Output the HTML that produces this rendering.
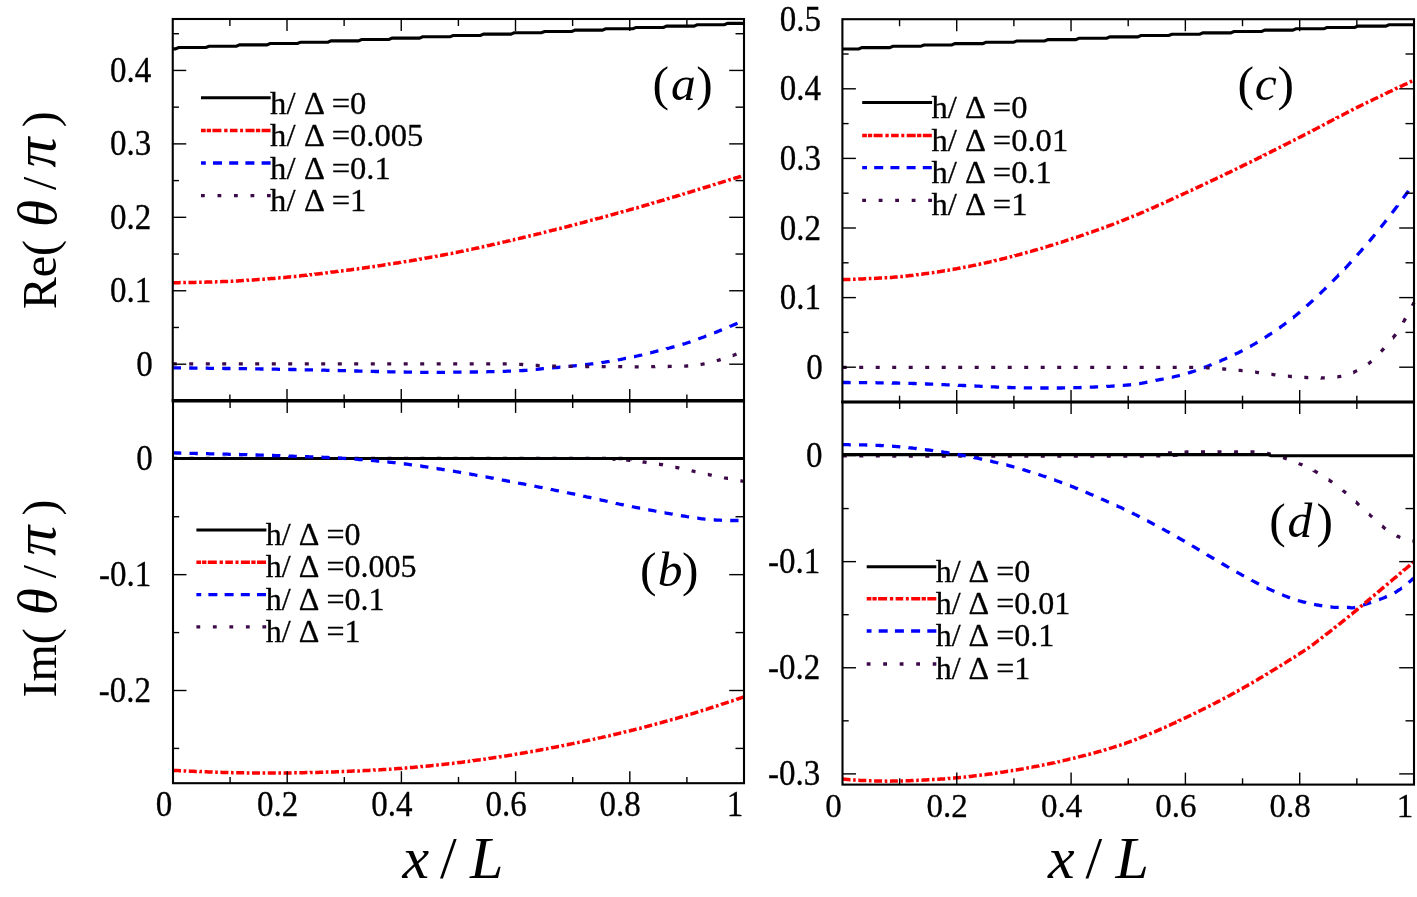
<!DOCTYPE html>
<html><head><meta charset="utf-8"><title>figure</title>
<style>html,body{margin:0;padding:0;background:#fff;}svg{display:block;}text{font-family:"Liberation Serif", serif;fill:#000;}.s{stroke:#000;stroke-width:0.3px;}</style>
</head><body>
<svg width="1417" height="897" viewBox="0 0 1417 897" style="will-change:transform">
<rect x="0" y="0" width="1417" height="897" fill="#ffffff"/>
<defs>
<clipPath id="cpa"><rect x="171.25" y="19.00" width="574.25" height="381.90"/></clipPath>
<clipPath id="cpb"><rect x="171.50" y="400.90" width="574.00" height="382.30"/></clipPath>
<clipPath id="cpc"><rect x="840.90" y="19.20" width="574.60" height="382.80"/></clipPath>
<clipPath id="cpd"><rect x="841.00" y="402.00" width="574.50" height="382.60"/></clipPath>
</defs>
<path d="M172.75,48.88 L175.40,48.88 L178.60,47.54 L205.90,47.54 L209.10,46.20 L236.40,46.20 L239.60,44.86 L266.90,44.86 L270.10,43.52 L297.40,43.52 L300.60,42.18 L327.90,42.18 L331.10,40.84 L358.40,40.84 L361.60,39.50 L388.90,39.50 L392.10,38.16 L419.40,38.16 L422.60,36.82 L449.90,36.82 L453.10,35.48 L480.40,35.48 L483.60,34.14 L510.90,34.14 L514.10,32.80 L541.40,32.80 L544.60,31.46 L571.90,31.46 L575.10,30.12 L602.40,30.12 L605.60,28.78 L632.90,28.78 L636.10,27.44 L663.40,27.44 L666.60,26.10 L693.90,26.10 L697.10,24.76 L724.40,24.76 L727.60,23.42 L744.00,23.42" fill="none" stroke="#000000" stroke-width="3.10"/>
<path d="M172.8,282.8 L173.0,282.8 L173.8,282.8 L174.7,282.8 L175.7,282.7 L176.7,282.7 L177.8,282.7 L179.0,282.7 L180.2,282.6 L180.7,282.6 M183.3,282.6 L183.7,282.6 L185.1,282.6 L185.9,282.5 M188.5,282.5 L188.6,282.5 L190.1,282.5 L191.7,282.4 L193.3,282.4 L195.0,282.4 L196.5,282.3 M199.1,282.3 L199.4,282.3 L201.2,282.2 L201.7,282.2 M204.3,282.2 L204.6,282.2 L206.4,282.1 L208.1,282.1 L209.9,282.0 L211.6,282.0 L212.3,281.9 M214.9,281.9 L215.1,281.9 L216.8,281.8 L217.5,281.8 M220.1,281.7 L220.3,281.7 L221.9,281.6 L223.6,281.6 L225.2,281.5 L226.8,281.4 L228.1,281.4 M230.7,281.3 L230.9,281.3 L232.4,281.2 L233.3,281.1 M235.9,281.0 L236.4,281.0 L237.9,280.9 L239.4,280.8 L240.9,280.7 L242.4,280.6 L243.9,280.5 L243.9,280.5 M246.5,280.4 L246.9,280.3 L248.4,280.3 L249.1,280.2 M251.7,280.0 L251.9,280.0 L253.4,279.9 L254.9,279.8 L256.4,279.7 L257.9,279.6 L259.4,279.5 L259.7,279.5 M262.3,279.3 L262.4,279.3 L263.9,279.2 L264.9,279.1 M267.5,278.9 L268.0,278.8 L269.5,278.7 L271.0,278.6 L272.5,278.5 L274.0,278.4 L275.5,278.2 M278.1,278.0 L278.5,278.0 L280.0,277.8 L280.6,277.8 M283.2,277.5 L283.5,277.5 L285.0,277.4 L286.5,277.2 L288.0,277.1 L289.5,277.0 L291.0,276.8 L291.2,276.8 M293.8,276.5 L294.0,276.5 L295.4,276.4 L296.4,276.3 M299.0,276.0 L299.4,276.0 L300.9,275.8 L302.4,275.6 L303.9,275.5 L305.4,275.3 L306.9,275.2 L307.0,275.1 M309.5,274.9 L309.8,274.8 L311.3,274.7 L312.1,274.6 M314.7,274.3 L314.8,274.2 L316.3,274.1 L317.8,273.9 L319.3,273.7 L320.8,273.5 L322.3,273.4 L322.7,273.3 M325.3,273.0 L325.7,272.9 L327.2,272.8 L327.9,272.7 M330.4,272.4 L330.7,272.3 L332.2,272.1 L333.7,271.9 L335.2,271.8 L336.7,271.6 L338.2,271.4 L338.4,271.3 M341.0,271.0 L341.1,271.0 L342.6,270.8 L343.6,270.7 M346.2,270.3 L346.6,270.3 L348.1,270.1 L349.6,269.9 L351.1,269.7 L352.6,269.5 L354.1,269.3 L354.1,269.3 M356.7,268.9 L357.0,268.9 L358.5,268.7 L359.3,268.6 M361.9,268.2 L362.0,268.2 L363.5,268.0 L365.0,267.8 L366.5,267.6 L368.0,267.4 L369.5,267.1 L369.8,267.1 M372.4,266.7 L372.4,266.7 L373.9,266.5 L375.0,266.4 M377.5,266.0 L377.9,265.9 L379.4,265.7 L380.9,265.5 L382.4,265.3 L383.9,265.0 L385.4,264.8 L385.5,264.8 M388.1,264.4 L388.3,264.3 L389.8,264.1 L390.6,264.0 M393.2,263.6 L393.3,263.6 L394.8,263.3 L396.3,263.1 L397.8,262.9 L399.3,262.6 L400.8,262.4 L401.1,262.3 M403.7,261.9 L404.2,261.8 L405.7,261.6 L406.3,261.5 M408.9,261.0 L409.1,261.0 L410.6,260.8 L412.1,260.5 L413.6,260.3 L415.0,260.0 L416.5,259.8 L416.8,259.7 M419.4,259.3 L419.5,259.2 L420.9,259.0 L421.9,258.8 M424.5,258.4 L424.9,258.3 L426.4,258.0 L427.8,257.8 L429.3,257.5 L430.8,257.2 L432.3,257.0 L432.4,257.0 M435.0,256.5 L435.2,256.4 L436.7,256.2 L437.6,256.0 M440.1,255.5 L440.2,255.5 L441.6,255.3 L443.1,255.0 L444.6,254.7 L446.1,254.4 L447.5,254.1 L448.0,254.0 M450.6,253.5 L451.0,253.5 L452.5,253.2 L453.2,253.0 M455.7,252.5 L455.9,252.5 L457.4,252.2 L458.9,251.9 L460.3,251.6 L461.8,251.3 L463.3,251.0 L463.6,250.9 M466.2,250.4 L466.7,250.3 L468.1,250.0 L468.7,249.9 M471.3,249.3 L471.6,249.3 L473.0,248.9 L474.5,248.6 L476.0,248.3 L477.4,248.0 L478.9,247.7 L479.2,247.6 M481.7,247.0 L481.8,247.0 L483.3,246.7 L484.3,246.5 M486.9,245.9 L487.2,245.8 L488.6,245.5 L490.1,245.2 L491.6,244.8 L493.0,244.5 L494.5,244.2 L494.7,244.1 M497.3,243.5 L497.4,243.5 L498.9,243.2 L499.8,243.0 M502.4,242.4 L502.8,242.3 L504.3,241.9 L505.7,241.6 L507.2,241.2 L508.7,240.9 L510.1,240.6 L510.2,240.5 M512.8,239.9 L513.1,239.9 L514.5,239.5 L515.3,239.3 M517.9,238.7 L517.9,238.7 L519.4,238.4 L520.9,238.0 L522.3,237.7 L523.8,237.3 L525.3,237.0 L525.7,236.9 M528.3,236.3 L528.7,236.2 L530.1,235.8 L530.8,235.7 M533.4,235.0 L533.6,235.0 L535.0,234.6 L536.5,234.3 L538.0,233.9 L539.4,233.6 L540.9,233.2 L541.2,233.1 M543.8,232.5 L543.8,232.5 L545.3,232.1 L546.3,231.9 M548.9,231.2 L549.2,231.1 L550.7,230.8 L552.1,230.4 L553.6,230.0 L555.0,229.7 L556.5,229.3 L556.7,229.3 M559.2,228.6 L559.4,228.6 L560.9,228.2 L561.8,228.0 M564.3,227.3 L564.3,227.3 L565.8,227.0 L567.3,226.6 L568.7,226.2 L570.2,225.8 L571.6,225.5 L572.1,225.3 M574.7,224.7 L575.0,224.6 L576.5,224.2 L577.2,224.0 M579.8,223.3 L579.9,223.3 L581.3,222.9 L582.8,222.6 L584.2,222.2 L585.7,221.8 L587.1,221.4 L587.6,221.3 M590.1,220.6 L590.5,220.5 L592.0,220.1 L592.7,220.0 M595.2,219.3 L595.4,219.2 L596.8,218.8 L598.3,218.4 L599.7,218.1 L601.2,217.7 L602.6,217.3 L603.0,217.2 M605.5,216.5 L605.5,216.5 L607.0,216.1 L608.1,215.8 M610.6,215.1 L610.9,215.0 L612.3,214.6 L613.8,214.2 L615.2,213.8 L616.7,213.4 L618.1,213.0 L618.4,213.0 M620.9,212.3 L621.0,212.2 L622.5,211.8 L623.5,211.6 M626.0,210.9 L626.4,210.8 L627.8,210.3 L629.3,209.9 L630.7,209.5 L632.2,209.1 L633.6,208.7 L633.8,208.7 M636.3,207.9 L636.5,207.9 L637.9,207.5 L638.9,207.2 M641.4,206.5 L641.8,206.4 L643.2,206.0 L644.6,205.5 L646.1,205.1 L647.5,204.7 L649.0,204.3 L649.2,204.2 M651.7,203.5 L651.8,203.4 L653.3,203.0 L654.2,202.7 M656.7,202.0 L657.1,201.9 L658.6,201.5 L660.0,201.0 L661.4,200.6 L662.9,200.2 L664.3,199.8 L664.5,199.7 M667.0,199.0 L667.2,198.9 L668.6,198.5 L669.5,198.2 M672.1,197.4 L672.5,197.3 L673.9,196.9 L675.4,196.5 L676.8,196.0 L678.2,195.6 L679.7,195.2 L679.8,195.1 M682.4,194.4 L682.6,194.3 L684.0,193.9 L684.9,193.6 M687.4,192.8 L687.8,192.7 L689.3,192.3 L690.8,191.8 L692.4,191.3 L693.9,190.9 L695.2,190.5 M697.7,189.7 L697.7,189.7 L699.3,189.2 L700.2,188.9 M702.7,188.2 L703.2,188.0 L704.9,187.5 L706.5,187.0 L708.2,186.5 L709.9,186.0 L710.5,185.8 M713.0,185.0 L713.2,184.9 L714.9,184.4 L715.5,184.2 M718.0,183.5 L718.2,183.4 L719.8,182.9 L721.4,182.4 L723.0,181.9 L724.5,181.4 L725.8,181.1 M728.3,180.3 L728.5,180.2 L730.0,179.7 L730.8,179.5 M733.3,178.7 L733.6,178.6 L734.9,178.2 L736.2,177.8 L737.3,177.5 L738.5,177.1 L739.5,176.8 L740.6,176.5 L741.1,176.3 M743.6,175.5 L743.8,175.5 L744.0,175.4" fill="none" stroke="#ff0000" stroke-width="3.50"/>
<path d="M172.8,367.8 L173.0,367.8 L173.8,367.8 L174.6,367.8 L175.5,367.8 L176.4,367.8 L177.3,367.9 L178.3,367.9 L179.3,367.9 L180.3,367.9 L181.0,367.9 M189.2,368.0 L189.3,368.0 L190.6,368.0 L191.9,368.0 L193.3,368.1 L194.7,368.1 L196.1,368.1 L197.5,368.1 L197.5,368.1 M205.7,368.2 L205.9,368.2 L207.5,368.2 L209.1,368.3 L210.6,368.3 L212.3,368.3 L213.9,368.3 L214.0,368.3 M222.2,368.4 L222.7,368.4 L224.4,368.5 L226.1,368.5 L227.8,368.5 L229.6,368.5 L230.5,368.5 M238.7,368.7 L238.8,368.7 L240.6,368.7 L242.3,368.7 L244.1,368.7 L245.9,368.7 L247.0,368.8 M255.2,368.9 L255.8,368.9 L257.5,368.9 L259.2,368.9 L260.9,369.0 L262.7,369.0 L263.5,369.0 M271.7,369.1 L272.2,369.1 L273.9,369.2 L275.5,369.2 L277.1,369.2 L278.7,369.3 L280.0,369.3 M288.2,369.4 L288.5,369.4 L290.0,369.5 L291.6,369.5 L293.1,369.5 L294.6,369.5 L296.2,369.6 L296.5,369.6 M304.7,369.8 L305.1,369.8 L306.7,369.8 L308.3,369.8 L309.9,369.9 L311.5,369.9 L313.0,369.9 M321.2,370.1 L321.8,370.2 L323.4,370.2 L325.0,370.2 L326.7,370.3 L328.3,370.3 L329.5,370.3 M337.7,370.5 L338.0,370.5 L339.7,370.6 L341.3,370.6 L342.9,370.7 L344.5,370.7 L346.0,370.7 M354.2,371.0 L354.6,371.0 L356.1,371.0 L357.7,371.0 L359.2,371.1 L360.8,371.1 L362.3,371.2 L362.5,371.2 M370.7,371.4 L370.9,371.4 L372.4,371.4 L373.8,371.4 L375.3,371.5 L376.7,371.5 L378.1,371.5 L379.0,371.5 M387.2,371.7 L387.3,371.7 L388.6,371.8 L389.9,371.8 L391.2,371.8 L392.5,371.8 L393.7,371.9 L395.0,371.9 L395.5,371.9 M403.7,372.0 L404.2,372.0 L406.3,372.1 L408.3,372.1 L410.3,372.1 L412.0,372.2 M420.2,372.3 L420.4,372.3 L422.0,372.3 L423.5,372.3 L425.0,372.3 L426.5,372.3 L427.9,372.3 L428.5,372.3 M436.7,372.3 L436.8,372.3 L438.1,372.3 L439.4,372.3 L440.6,372.3 L441.9,372.3 L443.1,372.3 L444.4,372.3 L445.0,372.3 M453.2,372.2 L453.6,372.2 L455.0,372.2 L456.4,372.2 L457.9,372.2 L459.4,372.2 L460.9,372.2 L461.5,372.2 M469.7,372.1 L469.8,372.1 L471.4,372.0 L473.1,372.0 L474.7,372.0 L476.3,372.0 L477.9,371.9 L478.0,371.9 M486.2,371.8 L486.6,371.8 L488.2,371.7 L489.8,371.7 L491.4,371.6 L492.9,371.6 L494.5,371.6 L494.5,371.6 M502.7,371.3 L503.0,371.3 L504.4,371.3 L505.8,371.3 L507.2,371.2 L508.5,371.2 L509.8,371.1 L511.0,371.1 M519.2,370.7 L519.7,370.7 L521.6,370.6 L523.4,370.5 L525.1,370.4 L526.6,370.3 L527.5,370.2 M535.7,369.4 L536.0,369.4 L537.3,369.3 L538.5,369.1 L539.9,369.0 L541.2,368.9 L542.6,368.7 L543.9,368.6 M552.1,367.9 L552.6,367.9 L554.1,367.7 L555.6,367.6 L557.1,367.5 L558.6,367.3 L560.1,367.2 L560.4,367.2 M568.6,366.4 L568.6,366.4 L570.1,366.3 L571.6,366.1 L573.1,365.9 L574.6,365.8 L576.1,365.6 L576.8,365.6 M585.0,364.7 L585.2,364.7 L586.7,364.5 L588.2,364.3 L589.7,364.1 L591.2,363.9 L592.7,363.8 L593.3,363.7 M601.4,362.6 L601.7,362.5 L603.2,362.3 L604.7,362.1 L606.2,361.8 L607.7,361.6 L609.2,361.4 L609.6,361.3 M617.8,359.9 L618.2,359.8 L619.7,359.6 L621.2,359.3 L622.7,359.0 L624.2,358.7 L625.7,358.4 L626.0,358.4 M634.0,356.7 L634.2,356.7 L635.7,356.3 L637.1,356.0 L638.6,355.7 L640.1,355.3 L641.6,355.0 L642.2,354.8 M650.2,352.8 L650.4,352.8 L651.9,352.4 L653.4,352.1 L654.9,351.7 L656.3,351.3 L657.8,350.9 L658.4,350.8 M666.4,348.8 L666.5,348.7 L668.0,348.3 L669.4,348.0 L670.9,347.6 L672.4,347.2 L673.8,346.8 L674.5,346.6 M682.5,344.4 L682.5,344.4 L684.0,343.9 L685.4,343.5 L686.9,343.0 L688.3,342.5 L689.7,342.1 L690.5,341.8 M698.3,339.0 L698.8,338.8 L700.2,338.3 L701.6,337.8 L703.1,337.2 L704.5,336.7 L705.9,336.1 L706.3,336.0 M714.1,332.9 L714.5,332.8 L715.9,332.2 L717.4,331.6 L718.9,331.0 L720.4,330.4 L721.9,329.8 M729.7,326.6 L730.2,326.3 L731.8,325.7 L733.3,325.0 L734.8,324.4 L736.3,323.8 L737.5,323.3" fill="none" stroke="#0000ff" stroke-width="3.30"/>
<path d="M172.8,363.8 L173.0,363.8 L173.8,363.8 L174.6,363.8 L175.4,363.8 L176.2,363.8 L176.8,363.8 M189.2,363.8 L189.3,363.8 L190.5,363.8 L191.6,363.8 L192.8,363.8 L193.2,363.8 M205.8,363.8 L205.8,363.8 L207.2,363.8 L208.6,363.8 L209.8,363.8 M222.2,363.8 L222.4,363.8 L223.9,363.8 L225.5,363.8 L226.2,363.8 M238.8,363.8 L238.9,363.8 L240.6,363.8 L242.3,363.8 L242.8,363.8 M255.2,363.8 L255.4,363.8 L257.1,363.8 L258.8,363.8 L259.2,363.8 M271.8,363.8 L271.8,363.8 L273.6,363.8 L275.3,363.8 L275.8,363.8 M288.2,363.8 L288.5,363.8 L290.3,363.8 L292.1,363.8 L292.2,363.8 M304.8,363.8 L305.3,363.8 L307.1,363.8 L308.8,363.8 M321.2,363.8 L321.4,363.8 L323.1,363.8 L324.9,363.8 L325.2,363.8 M337.8,363.8 L338.1,363.8 L339.8,363.8 L341.5,363.8 L341.8,363.8 M354.2,363.8 L354.7,363.8 L356.3,363.8 L357.9,363.8 L358.2,363.8 M370.8,363.8 L371.2,363.8 L372.6,363.8 L374.1,363.8 L374.8,363.8 M387.2,363.8 L387.3,363.8 L388.6,363.8 L389.9,363.8 L391.1,363.8 L391.2,363.8 M403.7,363.8 L404.0,363.8 L406.4,363.8 L407.7,363.8 M420.2,363.8 L420.6,363.8 L422.7,363.8 L424.2,363.8 M436.7,363.8 L437.2,363.8 L439.0,363.8 L440.7,363.8 M453.2,363.8 L453.7,363.8 L455.3,363.8 L456.9,363.8 L457.2,363.8 M469.7,363.8 L470.0,363.8 L471.3,363.8 L472.6,363.8 L473.7,363.8 M486.2,363.8 L486.4,363.8 L487.4,363.8 L488.5,363.8 L489.5,363.8 L490.2,363.8 M502.7,363.8 L503.4,363.8 L506.7,363.8 M519.2,364.3 L519.4,364.3 L521.0,364.4 L522.5,364.5 L523.2,364.6 M535.7,365.4 L536.1,365.4 L537.5,365.5 L538.9,365.6 L539.7,365.6 M552.2,366.1 L552.2,366.1 L553.5,366.1 L554.9,366.2 L556.2,366.2 M568.7,366.4 L568.9,366.4 L570.7,366.4 L572.6,366.4 L572.7,366.4 M585.2,366.5 L585.7,366.5 L587.2,366.5 L588.8,366.6 L589.2,366.6 M601.7,366.7 L602.0,366.7 L603.6,366.7 L605.2,366.7 L605.7,366.7 M618.2,366.7 L618.4,366.7 L619.9,366.7 L621.4,366.7 L622.2,366.7 M634.7,366.8 L635.1,366.8 L636.6,366.8 L638.1,366.8 L638.7,366.8 M651.2,366.7 L651.6,366.7 L653.2,366.7 L654.8,366.7 L655.2,366.6 M667.7,366.5 L668.0,366.5 L669.7,366.4 L671.3,366.4 L671.7,366.4 M684.2,366.1 L684.4,366.1 L685.6,366.1 L686.7,366.0 L688.2,365.9 M700.6,364.5 L701.1,364.4 L702.6,364.2 L704.0,363.9 L704.6,363.8 M716.8,360.6 L717.2,360.5 L718.8,360.1 L720.4,359.6 L720.7,359.5 M732.7,355.5 L732.8,355.5 L734.1,355.0 L735.5,354.4 L736.5,354.0" fill="none" stroke="#3c0a49" stroke-width="3.30"/>
<path d="M173.0,458.4 L173.3,458.4 L174.0,458.4 L174.8,458.4 L175.6,458.4 L176.4,458.4 L177.0,458.4 M189.5,458.4 L189.6,458.4 L190.6,458.4 L191.7,458.4 L192.7,458.4 L193.5,458.4 M206.0,458.4 L206.0,458.4 L207.3,458.4 L208.5,458.4 L209.7,458.4 L210.0,458.4 M222.5,458.4 L222.8,458.4 L224.1,458.4 L225.5,458.4 L226.5,458.4 M239.0,458.4 L239.3,458.4 L240.8,458.4 L242.3,458.4 L243.0,458.4 M255.5,458.4 L255.6,458.4 L257.1,458.4 L258.7,458.4 L259.5,458.4 M272.0,458.4 L272.2,458.4 L273.8,458.4 L275.5,458.4 L276.0,458.4 M288.5,458.4 L289.0,458.4 L290.7,458.4 L292.4,458.4 L292.5,458.4 M305.0,458.4 L305.2,458.4 L306.9,458.4 L308.7,458.4 L309.0,458.4 M321.5,458.4 L321.8,458.4 L323.6,458.4 L325.4,458.4 L325.5,458.4 M338.0,458.4 L338.2,458.4 L340.0,458.3 L341.8,458.3 L342.0,458.3 M354.5,458.3 L354.8,458.3 L356.6,458.3 L358.5,458.3 L358.5,458.3 M371.0,458.3 L371.5,458.3 L373.4,458.3 L375.0,458.3 M387.5,458.3 L387.7,458.3 L389.5,458.3 L391.4,458.3 L391.5,458.3 M404.0,458.3 L404.5,458.3 L406.3,458.3 L408.0,458.3 M420.5,458.3 L420.6,458.3 L422.4,458.3 L424.3,458.3 L424.5,458.3 M437.0,458.3 L437.1,458.3 L438.9,458.3 L440.8,458.3 L441.0,458.3 M453.5,458.3 L454.0,458.3 L455.8,458.3 L457.5,458.3 M470.0,458.3 L470.6,458.3 L472.3,458.3 L474.0,458.3 M486.5,458.3 L486.7,458.3 L488.4,458.3 L490.1,458.3 L490.5,458.3 M503.0,458.3 L503.3,458.3 L505.0,458.3 L506.6,458.3 L507.0,458.3 M519.5,458.3 L519.8,458.3 L521.4,458.3 L522.9,458.3 L523.5,458.3 M536.0,458.3 L536.3,458.3 L537.8,458.3 L539.2,458.3 L540.0,458.3 M552.5,458.3 L552.6,458.3 L554.0,458.3 L555.3,458.3 L556.5,458.3 M569.0,458.4 L569.0,458.4 L570.2,458.4 L571.4,458.4 L572.5,458.4 L573.0,458.4 M585.5,458.4 L585.7,458.4 L586.6,458.4 L587.6,458.4 L588.5,458.4 L589.5,458.4 L589.5,458.4 M602.0,458.4 L604.9,458.4 L606.0,458.4 M618.5,458.5 L620.5,458.5 L622.5,458.5 M632.1,458.8 L632.1,458.8 L628.2,458.9 L628.1,458.9 M615.6,459.2 L615.1,459.2 L612.8,459.3 L613.5,459.4 L613.7,459.4 M626.2,460.0 L626.5,460.0 L628.0,460.1 L629.5,460.3 L630.2,460.3 M642.6,461.9 L643.1,462.0 L644.6,462.2 L646.0,462.4 L646.6,462.5 M659.0,464.2 L659.1,464.2 L660.7,464.5 L662.1,464.7 L663.0,464.9 M675.3,467.3 L675.5,467.3 L677.0,467.6 L678.6,467.9 L679.3,468.1 M691.6,470.8 L692.0,470.9 L693.4,471.2 L694.9,471.6 L695.5,471.7 M707.8,474.5 L708.0,474.5 L709.5,474.8 L711.0,475.1 L711.7,475.3 M724.1,477.7 L724.5,477.8 L726.2,478.1 L727.8,478.4 L728.0,478.4 M740.4,480.7 L741.0,480.8 L742.4,481.1 L743.5,481.3 L744.0,481.4" fill="none" stroke="#3c0a49" stroke-width="3.30"/>
<path d="M173.00,458.50 L744.00,458.50" fill="none" stroke="#000000" stroke-width="3.10"/>
<path d="M173.0,452.9 L173.3,452.9 L174.1,452.9 L175.0,452.9 L175.9,453.0 L177.0,453.0 L178.1,453.0 L179.2,453.0 L180.4,453.1 L181.3,453.1 M189.5,453.3 L189.8,453.3 L191.4,453.3 L193.0,453.4 L194.6,453.4 L196.3,453.5 L197.8,453.5 M206.0,453.7 L206.0,453.7 L207.8,453.7 L209.5,453.8 L211.3,453.8 L213.0,453.9 L214.3,453.9 M222.5,454.1 L222.7,454.1 L224.4,454.1 L226.0,454.2 L227.5,454.2 L229.1,454.3 L230.6,454.3 L230.8,454.3 M239.0,454.5 L239.1,454.5 L240.6,454.6 L242.1,454.6 L243.6,454.7 L245.1,454.7 L246.6,454.7 L247.3,454.8 M255.5,455.0 L255.6,455.0 L257.1,455.0 L258.6,455.1 L260.2,455.1 L261.7,455.2 L263.2,455.2 L263.8,455.2 M272.0,455.5 L272.2,455.5 L273.7,455.5 L275.2,455.6 L276.7,455.6 L278.2,455.7 L279.7,455.7 L280.3,455.8 M288.5,456.0 L288.7,456.1 L290.2,456.1 L291.7,456.2 L293.2,456.2 L294.7,456.3 L296.2,456.3 L296.8,456.3 M305.0,456.6 L305.2,456.6 L306.7,456.7 L308.2,456.7 L309.7,456.8 L311.2,456.8 L312.7,456.9 L313.3,456.9 M321.5,457.2 L321.8,457.2 L323.3,457.3 L324.8,457.4 L326.3,457.4 L327.8,457.5 L329.3,457.6 L329.7,457.6 M337.9,458.0 L338.3,458.0 L339.8,458.1 L341.3,458.2 L342.8,458.3 L344.3,458.4 L345.8,458.5 L346.2,458.5 M354.4,459.1 L354.8,459.1 L356.3,459.2 L357.8,459.3 L359.3,459.5 L360.8,459.6 L362.3,459.7 L362.7,459.7 M370.9,460.4 L371.3,460.4 L372.8,460.6 L374.4,460.7 L375.9,460.8 L377.4,461.0 L378.9,461.1 L379.2,461.1 M387.3,461.9 L387.4,461.9 L388.9,462.1 L390.4,462.3 L391.9,462.4 L393.4,462.6 L394.9,462.7 L395.6,462.8 M403.8,463.8 L403.9,463.8 L405.4,464.0 L406.9,464.2 L408.4,464.4 L409.8,464.6 L411.3,464.8 L412.0,464.9 M420.2,466.0 L420.3,466.0 L421.8,466.2 L423.2,466.5 L424.7,466.7 L426.2,466.9 L427.7,467.1 L428.4,467.2 M436.5,468.5 L436.7,468.5 L438.1,468.8 L439.6,469.0 L441.1,469.2 L442.6,469.5 L444.1,469.7 L444.7,469.8 M452.9,471.2 L453.0,471.2 L454.5,471.4 L456.0,471.7 L457.5,471.9 L459.0,472.2 L460.5,472.4 L461.1,472.5 M469.2,473.9 L469.3,473.9 L470.8,474.2 L472.3,474.5 L473.8,474.7 L475.2,475.0 L476.7,475.3 L477.4,475.4 M485.5,476.9 L485.6,476.9 L487.0,477.1 L488.5,477.4 L490.0,477.7 L491.5,478.0 L493.0,478.2 L493.7,478.4 M501.8,479.9 L502.3,480.0 L503.8,480.3 L505.3,480.5 L506.7,480.8 L508.2,481.1 L509.7,481.4 L510.0,481.4 M518.1,483.0 L518.6,483.1 L520.0,483.3 L521.5,483.6 L523.0,483.9 L524.5,484.2 L525.9,484.5 L526.3,484.6 M534.4,486.1 L534.8,486.2 L536.3,486.5 L537.8,486.8 L539.2,487.1 L540.7,487.3 L542.2,487.6 L542.6,487.7 M550.7,489.3 L551.0,489.4 L552.5,489.7 L554.0,490.0 L555.5,490.3 L556.9,490.6 L558.4,490.9 L558.9,491.0 M567.0,492.6 L567.3,492.7 L568.8,493.0 L570.2,493.3 L571.7,493.6 L573.2,493.9 L574.7,494.2 L575.2,494.3 M583.2,496.0 L583.5,496.1 L585.0,496.4 L586.5,496.8 L588.0,497.1 L589.4,497.4 L590.9,497.7 L591.4,497.8 M599.5,499.7 L599.8,499.7 L601.2,500.1 L602.7,500.4 L604.2,500.7 L605.7,501.0 L607.2,501.4 L607.6,501.5 M615.7,503.2 L616.0,503.3 L617.5,503.6 L619.0,504.0 L620.4,504.3 L621.9,504.6 L623.4,504.9 L623.8,505.0 M631.9,506.6 L632.3,506.7 L633.8,507.0 L635.3,507.3 L636.9,507.6 L638.4,507.9 L640.0,508.2 L640.1,508.2 M648.2,509.8 L648.5,509.8 L650.1,510.1 L651.7,510.4 L653.3,510.7 L654.9,511.0 L656.4,511.3 M664.5,512.8 L664.8,512.8 L666.3,513.1 L667.8,513.3 L669.3,513.6 L670.8,513.9 L672.3,514.1 L672.7,514.2 M680.9,515.6 L680.9,515.6 L682.2,515.8 L683.4,516.0 L684.6,516.2 L685.8,516.4 L686.9,516.6 L689.1,516.9 L689.1,516.9 M697.2,518.2 L697.5,518.2 L699.0,518.4 L700.5,518.6 L701.8,518.8 L703.2,518.9 L704.5,519.1 L705.5,519.2 M713.7,519.9 L714.0,519.9 L715.4,520.0 L717.0,520.1 L718.6,520.2 L720.3,520.2 L722.0,520.3 M730.2,520.5 L730.7,520.5 L732.3,520.5 L734.0,520.5 L735.6,520.5 L737.1,520.5 L738.5,520.5" fill="none" stroke="#0000ff" stroke-width="3.30"/>
<path d="M173.0,770.4 L173.3,770.4 L174.1,770.4 L175.0,770.5 L175.9,770.5 L177.0,770.6 L178.1,770.6 L179.2,770.7 L180.4,770.7 L181.0,770.7 M183.6,770.9 L183.9,770.9 L185.4,770.9 L186.2,771.0 M188.8,771.1 L188.8,771.1 L190.4,771.2 L191.9,771.2 L193.6,771.3 L195.2,771.4 L196.8,771.4 M199.4,771.5 L199.7,771.6 L201.4,771.6 L202.0,771.6 M204.6,771.8 L204.9,771.8 L206.6,771.8 L208.4,771.9 L210.1,772.0 L211.9,772.0 L212.6,772.1 M215.2,772.2 L215.4,772.2 L217.1,772.2 L217.8,772.2 M220.4,772.3 L220.5,772.3 L222.2,772.4 L223.8,772.4 L225.4,772.5 L227.0,772.5 L228.4,772.6 M231.0,772.6 L231.1,772.6 L232.6,772.7 L233.6,772.7 M236.2,772.7 L236.6,772.7 L238.1,772.8 L239.6,772.8 L241.1,772.8 L242.6,772.8 L244.1,772.8 L244.2,772.8 M246.8,772.9 L247.1,772.9 L248.6,772.9 L249.4,772.9 M252.0,772.9 L252.1,772.9 L253.6,772.9 L255.1,773.0 L256.6,773.0 L258.1,773.0 L259.7,773.0 L260.0,773.0 M262.6,773.0 L262.7,773.0 L264.2,773.0 L265.2,773.0 M267.8,773.0 L268.2,773.0 L269.7,773.0 L271.2,773.0 L272.7,773.0 L274.2,773.0 L275.7,773.0 L275.8,773.0 M278.4,773.0 L278.7,773.0 L280.2,773.0 L281.0,773.0 M283.6,772.9 L283.7,772.9 L285.2,772.9 L286.7,772.9 L288.2,772.9 L289.7,772.9 L291.2,772.9 L291.6,772.9 M294.2,772.8 L294.2,772.8 L295.7,772.8 L296.8,772.8 M299.4,772.7 L299.7,772.7 L301.2,772.7 L302.7,772.7 L304.2,772.7 L305.7,772.6 L307.2,772.6 L307.4,772.6 M310.0,772.6 L310.2,772.5 L311.7,772.5 L312.6,772.5 M315.2,772.4 L315.2,772.4 L316.8,772.4 L318.3,772.4 L319.8,772.3 L321.3,772.3 L322.8,772.2 L323.2,772.2 M325.8,772.1 L325.8,772.1 L327.3,772.1 L328.4,772.1 M331.0,772.0 L331.3,772.0 L332.8,771.9 L334.3,771.9 L335.8,771.8 L337.3,771.8 L338.8,771.7 L339.0,771.7 M341.6,771.6 L341.8,771.6 L343.3,771.5 L344.2,771.5 M346.8,771.4 L346.8,771.4 L348.3,771.3 L349.8,771.3 L351.3,771.2 L352.8,771.1 L354.3,771.1 L354.7,771.1 M357.3,770.9 L357.8,770.9 L359.3,770.9 L359.9,770.8 M362.5,770.7 L362.8,770.7 L364.3,770.6 L365.8,770.5 L367.3,770.5 L368.8,770.4 L370.3,770.3 L370.5,770.3 M373.1,770.2 L373.4,770.1 L374.9,770.1 L375.7,770.0 M378.3,769.9 L378.4,769.9 L379.9,769.8 L381.4,769.7 L382.9,769.6 L384.4,769.5 L385.9,769.4 L386.3,769.4 M388.9,769.2 L389.4,769.2 L390.9,769.1 L391.5,769.0 M394.1,768.8 L394.4,768.8 L395.9,768.7 L397.4,768.6 L398.9,768.5 L400.4,768.4 L401.9,768.3 L402.1,768.2 M404.7,768.0 L404.9,768.0 L406.4,767.9 L407.3,767.8 M409.9,767.6 L409.9,767.6 L411.4,767.5 L412.9,767.4 L414.4,767.2 L415.9,767.1 L417.4,767.0 L417.8,766.9 M420.4,766.7 L420.9,766.6 L422.4,766.5 L423.0,766.4 M425.6,766.2 L425.9,766.2 L427.4,766.0 L428.9,765.9 L430.5,765.7 L432.0,765.6 L433.5,765.4 L433.6,765.4 M436.2,765.1 L436.5,765.1 L438.0,764.9 L438.8,764.9 M441.4,764.6 L441.5,764.6 L443.0,764.4 L444.5,764.2 L446.0,764.1 L447.5,763.9 L449.0,763.7 L449.3,763.7 M451.9,763.4 L452.0,763.4 L453.5,763.2 L454.5,763.1 M457.1,762.8 L457.5,762.7 L459.0,762.5 L460.5,762.4 L462.0,762.2 L463.5,762.0 L465.0,761.8 L465.1,761.8 M467.6,761.4 L467.9,761.4 L469.4,761.2 L470.2,761.1 M472.8,760.8 L472.9,760.7 L474.4,760.5 L475.9,760.3 L477.4,760.1 L478.9,759.9 L480.3,759.7 L480.8,759.7 M483.3,759.3 L483.8,759.2 L485.3,759.0 L485.9,758.9 M488.5,758.6 L488.8,758.5 L490.3,758.3 L491.8,758.1 L493.3,757.8 L494.7,757.6 L496.2,757.4 L496.4,757.4 M499.0,757.0 L499.2,756.9 L500.7,756.7 L501.6,756.6 M504.2,756.2 L504.2,756.2 L505.7,755.9 L507.2,755.7 L508.6,755.4 L510.1,755.2 L511.6,755.0 L512.1,754.9 M514.7,754.5 L515.1,754.4 L516.6,754.1 L517.3,754.0 M519.8,753.6 L520.0,753.6 L521.5,753.3 L523.0,753.0 L524.5,752.8 L525.9,752.5 L527.4,752.3 L527.7,752.2 M530.3,751.8 L530.4,751.8 L531.8,751.5 L532.9,751.3 M535.5,750.8 L535.8,750.8 L537.3,750.5 L538.7,750.2 L540.2,750.0 L541.7,749.7 L543.2,749.4 L543.4,749.4 M545.9,748.9 L546.1,748.9 L547.6,748.6 L548.5,748.4 M551.1,747.9 L551.5,747.8 L553.0,747.5 L554.5,747.3 L556.0,747.0 L557.4,746.7 L558.9,746.4 L559.0,746.4 M561.5,745.9 L561.9,745.8 L563.3,745.5 L564.1,745.3 M566.7,744.8 L566.8,744.8 L568.3,744.5 L569.7,744.2 L571.2,743.9 L572.7,743.6 L574.2,743.3 L574.5,743.2 M577.1,742.7 L577.6,742.6 L579.0,742.3 L579.7,742.2 M582.2,741.6 L582.5,741.6 L583.9,741.3 L585.4,740.9 L586.9,740.6 L588.3,740.3 L589.8,740.0 L590.1,739.9 M592.7,739.4 L592.7,739.4 L594.2,739.1 L595.2,738.8 M597.8,738.3 L598.1,738.2 L599.5,737.9 L601.0,737.6 L602.5,737.2 L603.9,736.9 L605.4,736.6 L605.6,736.5 M608.2,735.9 L608.3,735.9 L609.8,735.6 L610.8,735.3 M613.3,734.8 L613.7,734.7 L615.2,734.3 L616.6,734.0 L618.1,733.6 L619.6,733.3 L621.0,732.9 L621.2,732.9 M623.7,732.3 L623.9,732.2 L625.4,731.9 L626.3,731.7 M628.8,731.0 L628.8,731.0 L630.3,730.7 L631.7,730.3 L633.2,730.0 L634.6,729.6 L636.1,729.2 L636.6,729.1 M639.2,728.4 L639.5,728.4 L640.9,728.0 L641.7,727.8 M644.3,727.1 L644.3,727.1 L645.8,726.7 L647.2,726.4 L648.7,726.0 L650.1,725.6 L651.6,725.2 L652.1,725.1 M654.6,724.4 L655.0,724.3 L656.4,723.9 L657.2,723.7 M659.7,723.0 L659.8,723.0 L661.3,722.6 L662.7,722.2 L664.2,721.8 L665.6,721.4 L667.1,721.0 L667.5,720.9 M670.0,720.2 L670.4,720.1 L671.9,719.6 L672.6,719.5 M675.1,718.7 L675.3,718.7 L676.7,718.3 L678.2,717.8 L679.6,717.4 L681.1,717.0 L682.5,716.6 L682.9,716.5 M685.4,715.7 L685.4,715.7 L686.9,715.3 L687.9,715.0 M690.4,714.2 L690.9,714.1 L692.4,713.6 L694.0,713.2 L695.6,712.7 L697.2,712.2 L698.2,711.8 M700.7,711.1 L701.0,711.0 L702.7,710.4 L703.2,710.3 M705.7,709.4 L706.0,709.4 L707.7,708.8 L709.4,708.3 L711.0,707.7 L712.7,707.2 L713.4,707.0 M715.9,706.1 L716.0,706.1 L717.7,705.6 L718.5,705.3 M721.0,704.5 L721.4,704.3 L723.0,703.8 L724.6,703.3 L726.1,702.8 L727.6,702.3 L728.7,701.9 M731.2,701.1 L731.4,701.1 L732.7,700.6 L733.7,700.3 M736.2,699.5 L736.6,699.3 L737.7,699.0 L738.8,698.6 L739.9,698.2 L740.9,697.9 L741.8,697.6 L742.7,697.3 L743.5,697.1 L743.9,696.9" fill="none" stroke="#ff0000" stroke-width="3.50"/>
<path d="M842.40,49.00 L858.70,49.00 L861.90,47.65 L889.70,47.65 L892.90,46.31 L920.70,46.31 L923.90,44.96 L951.70,44.96 L954.90,43.62 L982.70,43.62 L985.90,42.27 L1013.70,42.27 L1016.90,40.93 L1044.70,40.93 L1047.90,39.58 L1075.70,39.58 L1078.90,38.24 L1106.70,38.24 L1109.90,36.89 L1137.70,36.89 L1140.90,35.55 L1168.70,35.55 L1171.90,34.20 L1199.70,34.20 L1202.90,32.86 L1230.70,32.86 L1233.90,31.51 L1261.70,31.51 L1264.90,30.17 L1292.70,30.17 L1295.90,28.82 L1323.70,28.82 L1326.90,27.48 L1354.70,27.48 L1357.90,26.13 L1385.70,26.13 L1388.90,24.79 L1414.00,24.79" fill="none" stroke="#000000" stroke-width="3.10"/>
<path d="M842.4,279.7 L842.7,279.7 L843.5,279.6 L844.4,279.6 L845.3,279.6 L846.4,279.5 L847.5,279.5 L848.6,279.4 L849.8,279.4 L850.4,279.4 M853.0,279.3 L853.4,279.3 L854.8,279.2 L855.6,279.2 M858.2,279.1 L858.2,279.1 L859.8,279.0 L861.4,278.9 L863.0,278.9 L864.6,278.8 L866.2,278.8 M868.8,278.6 L869.1,278.6 L870.8,278.5 L871.4,278.5 M874.0,278.4 L874.3,278.4 L876.1,278.3 L877.8,278.2 L879.6,278.1 L881.3,278.0 L882.0,278.0 M884.6,277.8 L884.8,277.8 L886.5,277.7 L887.2,277.7 M889.8,277.5 L889.9,277.5 L891.6,277.4 L893.3,277.2 L894.9,277.1 L896.5,277.0 L897.7,276.9 M900.3,276.6 L900.6,276.6 L902.0,276.5 L902.9,276.4 M905.5,276.1 L905.5,276.1 L907.0,275.9 L908.5,275.8 L910.0,275.6 L911.5,275.4 L913.0,275.3 L913.5,275.2 M916.1,274.9 L916.5,274.8 L918.0,274.7 L918.7,274.6 M921.2,274.2 L921.4,274.2 L922.9,274.0 L924.4,273.8 L925.9,273.6 L927.4,273.4 L928.9,273.2 L929.2,273.2 M931.8,272.8 L931.9,272.8 L933.4,272.6 L934.4,272.4 M936.9,272.0 L937.3,272.0 L938.8,271.7 L940.3,271.5 L941.8,271.2 L943.3,271.0 L944.8,270.8 L944.9,270.8 M947.4,270.3 L947.8,270.3 L949.3,270.0 L950.0,269.9 M952.6,269.4 L952.7,269.4 L954.2,269.1 L955.7,268.9 L957.2,268.6 L958.7,268.3 L960.1,268.1 L960.5,268.0 M963.1,267.5 L963.1,267.5 L964.5,267.2 L965.6,267.0 M968.2,266.5 L968.4,266.5 L969.9,266.2 L971.4,265.9 L972.8,265.6 L974.3,265.3 L975.8,265.0 L976.1,264.9 M978.6,264.4 L978.7,264.4 L980.2,264.0 L981.2,263.8 M983.8,263.3 L984.1,263.2 L985.5,262.9 L987.0,262.5 L988.5,262.2 L989.9,261.9 L991.4,261.5 L991.6,261.5 M994.2,260.9 L994.3,260.8 L995.8,260.5 L996.7,260.3 M999.3,259.7 L999.7,259.6 L1001.2,259.2 L1002.6,258.8 L1004.1,258.5 L1005.6,258.1 L1007.0,257.7 L1007.1,257.7 M1009.7,257.1 L1010.0,257.0 L1011.4,256.6 L1012.2,256.4 M1014.7,255.8 L1014.8,255.7 L1016.3,255.4 L1017.7,255.0 L1019.2,254.6 L1020.6,254.2 L1022.0,253.8 L1022.5,253.7 M1025.1,253.0 L1025.4,252.9 L1026.8,252.5 L1027.6,252.3 M1030.1,251.6 L1030.2,251.6 L1031.7,251.2 L1033.1,250.7 L1034.5,250.3 L1036.0,249.9 L1037.4,249.5 L1037.9,249.3 M1040.5,248.6 L1040.8,248.5 L1042.2,248.1 L1043.0,247.8 M1045.5,247.1 L1045.6,247.1 L1047.0,246.6 L1048.5,246.2 L1049.9,245.7 L1051.3,245.3 L1052.8,244.9 L1053.2,244.7 M1055.8,243.9 L1056.1,243.8 L1057.6,243.3 L1058.3,243.1 M1060.8,242.3 L1061.0,242.3 L1062.4,241.8 L1063.8,241.4 L1065.3,240.9 L1066.7,240.4 L1068.2,239.9 L1068.5,239.8 M1071.0,239.0 L1071.0,239.0 L1072.5,238.5 L1073.5,238.2 M1076.0,237.3 L1076.2,237.3 L1077.7,236.8 L1079.1,236.3 L1080.5,235.8 L1081.9,235.4 L1083.3,234.9 L1083.7,234.7 M1086.2,233.9 L1086.6,233.7 L1088.0,233.3 L1088.7,233.0 M1091.2,232.1 L1091.4,232.1 L1092.8,231.6 L1094.2,231.1 L1095.6,230.6 L1097.0,230.1 L1098.4,229.6 L1098.9,229.4 M1101.4,228.5 L1101.7,228.4 L1103.2,227.9 L1103.9,227.6 M1106.4,226.7 L1106.5,226.7 L1107.9,226.1 L1109.3,225.6 L1110.7,225.1 L1112.1,224.6 L1113.6,224.0 L1114.0,223.8 M1116.5,222.9 L1116.9,222.8 L1118.3,222.2 L1119.0,221.9 M1121.4,221.0 L1121.6,220.9 L1123.0,220.4 L1124.4,219.8 L1125.8,219.2 L1127.3,218.7 L1128.7,218.1 L1129.0,218.0 M1131.5,217.0 L1131.9,216.8 L1133.2,216.2 L1133.9,216.0 M1136.4,214.9 L1136.4,214.9 L1137.8,214.3 L1139.2,213.8 L1140.5,213.2 L1141.9,212.6 L1143.3,212.0 L1143.9,211.7 M1146.4,210.7 L1146.5,210.6 L1147.9,210.0 L1148.8,209.6 M1151.3,208.5 L1151.5,208.4 L1152.9,207.8 L1154.3,207.2 L1155.6,206.6 L1157.0,205.9 L1158.4,205.3 L1158.8,205.2 M1161.2,204.1 L1161.6,203.9 L1163.0,203.3 L1163.6,203.0 M1166.1,201.8 L1166.2,201.8 L1167.5,201.2 L1168.9,200.6 L1170.3,199.9 L1171.6,199.3 L1173.0,198.7 L1173.5,198.4 M1176.0,197.3 L1176.2,197.2 L1177.6,196.6 L1178.4,196.2 M1180.8,195.1 L1181.2,194.9 L1182.6,194.3 L1184.0,193.6 L1185.4,193.0 L1186.7,192.4 L1188.1,191.8 L1188.3,191.7 M1190.7,190.5 L1190.8,190.5 L1192.2,189.9 L1193.1,189.4 M1195.6,188.3 L1195.8,188.2 L1197.2,187.6 L1198.5,186.9 L1199.9,186.3 L1201.2,185.6 L1202.6,185.0 L1203.0,184.8 M1205.4,183.7 L1205.8,183.5 L1207.1,182.9 L1207.9,182.5 M1210.3,181.4 L1210.3,181.4 L1211.7,180.7 L1213.0,180.1 L1214.4,179.4 L1215.8,178.8 L1217.1,178.1 L1217.7,177.9 M1220.1,176.7 L1220.3,176.6 L1221.7,176.0 L1222.6,175.5 M1225.0,174.4 L1225.3,174.2 L1226.6,173.6 L1228.0,172.9 L1229.4,172.3 L1230.7,171.6 L1232.1,171.0 L1232.4,170.8 M1234.8,169.6 L1234.8,169.6 L1236.2,169.0 L1237.2,168.5 M1239.6,167.3 L1239.8,167.2 L1241.2,166.6 L1242.5,165.9 L1243.9,165.2 L1245.2,164.6 L1246.6,163.9 L1247.0,163.7 M1249.4,162.5 L1249.7,162.4 L1251.1,161.7 L1251.9,161.3 M1254.3,160.1 L1254.7,159.9 L1256.0,159.3 L1257.4,158.6 L1258.7,157.9 L1260.1,157.3 L1261.4,156.6 L1261.7,156.5 M1264.1,155.3 L1264.1,155.2 L1265.5,154.6 L1266.5,154.1 M1268.9,152.9 L1269.1,152.8 L1270.4,152.1 L1271.8,151.4 L1273.1,150.7 L1274.5,150.1 L1275.8,149.4 L1276.2,149.2 M1278.6,148.0 L1279.0,147.8 L1280.3,147.1 L1281.0,146.8 M1283.4,145.6 L1283.5,145.5 L1284.8,144.8 L1286.2,144.2 L1287.5,143.5 L1288.9,142.8 L1290.2,142.1 L1290.8,141.8 M1293.2,140.6 L1293.4,140.5 L1294.7,139.8 L1295.6,139.4 M1298.0,138.2 L1298.3,138.0 L1299.7,137.3 L1301.0,136.6 L1302.4,135.9 L1303.7,135.2 L1305.0,134.5 L1305.3,134.4 M1307.7,133.2 L1308.2,132.9 L1309.5,132.2 L1310.1,131.9 M1312.5,130.7 L1312.6,130.6 L1314.0,129.9 L1315.3,129.2 L1316.6,128.5 L1318.0,127.8 L1319.3,127.1 L1319.8,126.8 M1322.2,125.6 L1322.5,125.4 L1323.8,124.7 L1324.6,124.3 M1327.0,123.1 L1327.4,122.9 L1328.7,122.1 L1330.0,121.4 L1331.4,120.7 L1332.7,120.0 L1334.1,119.3 L1334.3,119.2 M1336.7,118.0 L1336.7,117.9 L1338.1,117.2 L1339.1,116.7 M1341.4,115.5 L1341.7,115.4 L1343.0,114.7 L1344.3,114.0 L1345.7,113.3 L1347.0,112.6 L1348.4,111.9 L1348.8,111.7 M1351.2,110.5 L1351.5,110.3 L1352.8,109.6 L1353.6,109.2 M1356.0,108.0 L1356.4,107.8 L1357.8,107.1 L1359.2,106.4 L1360.6,105.7 L1362.0,105.0 L1363.4,104.4 M1365.8,103.2 L1366.0,103.1 L1367.5,102.3 L1368.2,102.0 M1370.6,100.8 L1370.6,100.8 L1372.2,100.1 L1373.8,99.3 L1375.4,98.5 L1377.0,97.8 L1378.0,97.3 M1380.4,96.1 L1380.7,96.0 L1382.2,95.2 L1382.8,94.9 M1385.3,93.8 L1385.4,93.7 L1386.9,93.0 L1388.5,92.2 L1390.0,91.5 L1391.5,90.8 L1392.7,90.2 M1395.1,89.1 L1395.4,88.9 L1396.9,88.2 L1397.5,87.9 M1399.9,86.8 L1400.1,86.7 L1401.4,86.1 L1402.7,85.5 L1403.9,84.9 L1405.1,84.3 L1406.3,83.8 L1407.4,83.3 M1409.8,82.1 L1409.8,82.1 L1410.8,81.6 L1411.7,81.2 L1412.2,81.0" fill="none" stroke="#ff0000" stroke-width="3.50"/>
<path d="M842.4,382.5 L842.7,382.5 L843.5,382.5 L844.4,382.5 L845.3,382.5 L846.4,382.5 L847.5,382.5 L848.6,382.5 L849.8,382.6 L850.7,382.6 M858.9,382.6 L859.3,382.6 L860.8,382.6 L862.4,382.6 L864.1,382.6 L865.7,382.7 L867.2,382.7 M875.4,382.7 L875.5,382.7 L877.2,382.8 L879.0,382.8 L880.7,382.8 L882.5,382.8 L883.7,382.8 M891.9,382.9 L892.2,383.0 L893.8,383.0 L895.4,383.0 L897.0,383.0 L898.5,383.1 L900.1,383.1 L900.2,383.1 M908.4,383.3 L908.6,383.3 L910.1,383.4 L911.6,383.4 L913.1,383.5 L914.6,383.5 L916.1,383.6 L916.7,383.6 M924.9,383.9 L925.1,383.9 L926.6,384.0 L928.1,384.0 L929.6,384.1 L931.1,384.2 L932.7,384.2 L933.2,384.2 M941.4,384.6 L941.7,384.6 L943.2,384.6 L944.7,384.7 L946.2,384.8 L947.7,384.8 L949.2,384.9 L949.7,384.9 M957.9,385.2 L958.2,385.3 L959.7,385.3 L961.2,385.4 L962.7,385.5 L964.2,385.5 L965.7,385.6 L966.2,385.6 M974.4,386.0 L974.8,386.0 L976.3,386.1 L977.8,386.2 L979.3,386.2 L980.8,386.3 L982.3,386.4 L982.7,386.4 M990.8,386.8 L991.3,386.8 L992.8,386.9 L994.3,386.9 L995.8,387.0 L997.3,387.1 L998.8,387.1 L999.1,387.1 M1007.3,387.4 L1007.4,387.4 L1008.9,387.5 L1010.4,387.5 L1011.9,387.6 L1013.4,387.6 L1014.9,387.6 L1015.6,387.6 M1023.8,387.8 L1023.9,387.8 L1025.4,387.8 L1026.9,387.9 L1028.4,387.9 L1029.9,387.9 L1031.4,387.9 L1032.1,387.9 M1040.3,388.0 L1040.5,388.0 L1042.0,388.0 L1043.5,388.0 L1045.0,388.0 L1046.5,388.0 L1048.0,388.0 L1048.6,388.0 M1056.8,388.0 L1057.0,388.0 L1058.5,388.0 L1060.0,388.0 L1061.5,388.0 L1063.0,387.9 L1064.5,387.9 L1065.1,387.9 M1073.3,387.7 L1073.6,387.7 L1075.1,387.7 L1076.7,387.7 L1078.2,387.6 L1079.8,387.6 L1081.4,387.5 L1081.6,387.5 M1089.8,387.2 L1090.1,387.2 L1091.7,387.1 L1093.3,387.1 L1095.0,387.0 L1096.6,386.9 L1098.1,386.9 M1106.3,386.5 L1106.7,386.4 L1108.2,386.4 L1109.7,386.3 L1111.3,386.2 L1112.8,386.1 L1114.2,386.0 L1114.6,386.0 M1122.8,385.4 L1123.0,385.4 L1124.2,385.3 L1125.5,385.2 L1126.7,385.1 L1127.8,385.0 L1129.7,384.9 L1131.1,384.7 M1139.2,383.7 L1139.3,383.7 L1140.8,383.4 L1142.3,383.2 L1143.6,382.9 L1144.9,382.7 L1146.2,382.4 L1147.4,382.2 M1155.5,380.5 L1155.8,380.4 L1157.3,380.1 L1158.8,379.8 L1160.2,379.5 L1161.7,379.3 L1163.2,379.0 L1163.7,378.9 M1171.8,377.2 L1172.1,377.2 L1173.5,376.9 L1175.0,376.5 L1176.5,376.2 L1178.0,375.9 L1179.4,375.5 L1179.9,375.4 M1187.9,373.1 L1188.2,373.0 L1189.6,372.6 L1191.1,372.1 L1192.5,371.7 L1193.9,371.2 L1195.4,370.7 L1195.9,370.5 M1203.8,367.6 L1203.9,367.6 L1205.4,367.0 L1206.8,366.5 L1208.2,365.9 L1209.7,365.3 L1211.1,364.8 L1211.6,364.5 M1219.4,361.3 L1219.5,361.3 L1220.9,360.7 L1222.2,360.1 L1223.6,359.5 L1225.0,358.9 L1226.4,358.3 L1227.2,358.0 M1234.9,354.4 L1235.1,354.3 L1236.5,353.6 L1237.9,353.0 L1239.3,352.3 L1240.7,351.6 L1242.1,350.8 L1242.5,350.6 M1250.0,346.5 L1250.3,346.4 L1251.6,345.6 L1252.9,344.9 L1254.2,344.1 L1255.5,343.4 L1256.8,342.6 L1257.5,342.2 M1264.8,337.7 L1265.0,337.6 L1266.3,336.7 L1267.6,335.9 L1268.9,335.0 L1270.2,334.2 L1271.5,333.3 L1272.1,333.0 M1279.2,328.0 L1279.6,327.8 L1280.8,326.9 L1282.0,326.0 L1283.2,325.1 L1284.4,324.2 L1285.6,323.3 L1286.2,322.9 M1293.1,317.5 L1293.2,317.5 L1294.4,316.5 L1295.7,315.5 L1296.9,314.5 L1298.1,313.5 L1299.3,312.5 L1300.0,311.9 M1306.6,306.2 L1307.0,305.8 L1308.1,304.8 L1309.2,303.8 L1310.3,302.8 L1311.4,301.8 L1312.5,300.8 L1313.2,300.1 M1319.7,294.0 L1319.8,293.9 L1320.9,292.8 L1322.0,291.7 L1323.1,290.6 L1324.2,289.6 L1325.3,288.5 L1326.1,287.7 M1332.4,281.4 L1332.4,281.4 L1333.5,280.4 L1334.5,279.3 L1335.6,278.3 L1336.6,277.2 L1337.7,276.1 L1338.7,275.0 L1338.8,275.0 M1344.9,268.5 L1345.0,268.5 L1346.0,267.4 L1347.1,266.3 L1348.1,265.2 L1349.2,264.0 L1350.2,262.9 L1351.1,261.9 M1357.2,255.2 L1357.2,255.2 L1358.1,254.1 L1359.1,253.0 L1360.1,251.9 L1361.1,250.8 L1362.0,249.7 L1363.0,248.6 L1363.2,248.4 M1369.1,241.5 L1369.2,241.4 L1370.2,240.2 L1371.1,239.1 L1372.1,237.9 L1373.1,236.7 L1374.1,235.5 L1374.9,234.5 M1380.7,227.4 L1380.9,227.2 L1381.8,226.0 L1382.8,224.8 L1383.8,223.5 L1384.8,222.3 L1385.7,221.1 L1386.4,220.3 M1392.0,213.0 L1392.3,212.6 L1393.3,211.2 L1394.4,209.9 L1395.4,208.5 L1396.5,207.1 L1397.5,205.7 L1397.5,205.6 M1403.0,198.3 L1403.0,198.3 L1404.0,197.0 L1404.9,195.7 L1405.9,194.4 L1406.8,193.2 L1407.7,192.0 L1408.5,190.8 M1413.9,183.5 L1414.0,183.4" fill="none" stroke="#0000ff" stroke-width="3.30"/>
<path d="M842.7,367.3 L843.0,367.3 L843.7,367.3 L844.5,367.3 L845.3,367.3 L846.2,367.3 L846.7,367.3 M859.2,367.3 L859.4,367.3 L860.5,367.3 L861.7,367.3 L862.8,367.3 L863.2,367.3 M875.7,367.3 L875.9,367.3 L877.3,367.3 L878.7,367.3 L879.7,367.3 M892.2,367.3 L892.2,367.3 L893.7,367.3 L895.3,367.3 L896.2,367.3 M908.7,367.3 L909.0,367.3 L910.6,367.3 L912.3,367.3 L912.7,367.3 M925.2,367.3 L925.8,367.3 L927.5,367.3 L929.2,367.3 M941.7,367.3 L942.1,367.3 L943.8,367.3 L945.6,367.3 L945.7,367.3 M958.2,367.3 L958.8,367.3 L960.6,367.3 L962.2,367.3 M974.7,367.3 L975.1,367.3 L976.9,367.3 L978.7,367.3 M991.2,367.3 L991.5,367.3 L993.3,367.3 L995.1,367.3 L995.2,367.3 M1007.7,367.3 L1008.2,367.3 L1010.0,367.3 L1011.7,367.3 M1024.2,367.3 L1024.6,367.3 L1026.3,367.3 L1028.1,367.3 L1028.2,367.3 M1040.7,367.3 L1040.9,367.3 L1042.6,367.3 L1044.2,367.3 L1044.7,367.3 M1057.2,367.3 L1057.4,367.3 L1058.9,367.3 L1060.5,367.3 L1061.2,367.3 M1073.7,367.3 L1074.0,367.3 L1075.4,367.3 L1076.7,367.3 L1077.7,367.3 M1090.2,367.3 L1090.2,367.3 L1091.4,367.3 L1092.5,367.3 L1093.6,367.3 L1094.2,367.3 M1106.7,367.3 L1106.8,367.3 L1109.6,367.3 L1110.7,367.3 M1123.2,367.3 L1123.9,367.3 L1126.2,367.3 L1127.2,367.3 M1139.7,367.3 L1140.3,367.3 L1142.1,367.3 L1143.7,367.3 M1156.2,367.3 L1156.6,367.3 L1157.9,367.3 L1159.1,367.3 L1160.2,367.3 M1172.7,367.4 L1173.0,367.4 L1173.9,367.4 L1174.8,367.4 L1175.7,367.4 L1176.5,367.4 L1176.7,367.4 M1189.2,367.4 L1190.0,367.4 L1192.9,367.4 L1193.2,367.4 M1205.7,367.7 L1205.7,367.7 L1207.3,367.8 L1208.8,367.9 L1209.7,368.0 M1222.2,368.9 L1222.2,368.9 L1223.7,369.0 L1225.2,369.1 L1226.2,369.2 M1238.6,370.3 L1238.8,370.3 L1240.3,370.4 L1241.8,370.6 L1242.6,370.6 M1255.1,372.1 L1255.4,372.1 L1256.9,372.3 L1258.4,372.6 L1259.0,372.7 M1271.4,374.4 L1271.9,374.4 L1273.4,374.6 L1274.9,374.8 L1275.4,374.9 M1287.9,376.2 L1288.2,376.2 L1289.8,376.3 L1291.4,376.5 L1291.9,376.5 M1304.3,377.4 L1304.7,377.4 L1306.2,377.5 L1307.7,377.6 L1308.3,377.6 M1320.8,377.9 L1321.1,378.0 L1322.6,377.9 L1324.1,377.9 L1324.8,377.9 M1337.3,376.8 L1337.4,376.8 L1339.0,376.6 L1340.5,376.4 L1341.3,376.3 M1353.3,372.5 L1353.4,372.5 L1354.7,371.8 L1356.0,371.1 L1357.0,370.6 M1368.2,363.8 L1368.5,363.6 L1369.7,362.7 L1370.9,361.7 L1371.5,361.3 M1381.1,351.6 L1381.2,351.5 L1382.2,350.3 L1383.2,349.2 L1384.0,348.3 M1392.9,337.8 L1393.0,337.8 L1393.9,336.6 L1394.9,335.4 L1395.7,334.3 M1403.3,322.4 L1403.4,322.1 L1404.2,320.8 L1404.9,319.4 L1405.5,318.4 M1412.3,305.8 L1412.5,305.4 L1413.1,304.3 L1413.6,303.3 L1414.0,302.5" fill="none" stroke="#3c0a49" stroke-width="3.30"/>
<path d="M842.8,455.9 L843.1,455.9 L843.8,455.9 L844.6,455.9 L845.4,455.9 L846.3,455.9 L846.8,455.9 M859.3,455.9 L859.6,455.9 L860.7,455.9 L861.8,455.9 L863.0,455.9 L863.3,455.9 M875.8,455.9 L875.8,455.9 L877.2,455.9 L878.5,455.9 L879.8,455.9 M892.3,456.0 L892.7,456.0 L894.2,456.0 L895.7,456.0 L896.3,456.0 M908.8,456.0 L909.3,456.0 L910.9,456.0 L912.5,456.0 L912.8,456.0 M925.3,456.0 L925.3,456.0 L927.0,456.0 L928.7,456.0 L929.3,456.0 M941.8,456.0 L942.1,456.0 L943.9,456.0 L945.7,456.0 L945.8,456.0 M958.3,456.0 L958.9,456.0 L960.7,456.0 L962.3,456.0 M974.8,456.1 L974.8,456.1 L976.7,456.1 L978.5,456.1 L978.8,456.1 M991.3,456.1 L991.5,456.1 L993.4,456.1 L995.3,456.1 L995.3,456.1 M1007.8,456.1 L1008.3,456.1 L1010.2,456.1 L1011.8,456.1 M1024.3,456.1 L1024.4,456.1 L1026.2,456.1 L1028.1,456.1 L1028.3,456.1 M1040.8,456.1 L1040.8,456.1 L1042.6,456.1 L1044.4,456.1 L1044.8,456.1 M1057.3,456.1 L1057.4,456.1 L1059.2,456.1 L1060.9,456.1 L1061.3,456.1 M1073.8,456.1 L1074.0,456.1 L1075.7,456.1 L1077.4,456.1 L1077.8,456.1 M1090.3,456.1 L1090.3,456.1 L1091.9,456.1 L1093.4,456.1 L1094.3,456.1 M1106.8,456.1 L1106.9,456.1 L1108.4,456.1 L1109.8,456.1 L1110.8,456.1 M1123.3,456.0 L1123.7,456.0 L1124.9,456.0 L1126.1,456.0 L1127.3,456.0 M1139.8,456.0 L1140.0,456.0 L1141.0,456.0 L1142.0,456.0 L1143.0,456.0 L1143.8,455.9 M1156.3,455.8 L1158.2,455.8 L1160.3,455.8 M1172.8,455.4 L1173.4,455.4 L1176.7,455.2 L1176.8,455.1 M1168.0,453.0 L1168.0,453.0 L1169.3,452.9 L1170.5,452.8 L1171.6,452.7 L1172.0,452.6 M1184.5,452.1 L1185.0,452.1 L1187.3,452.0 L1188.5,452.0 M1201.0,451.9 L1201.2,451.9 L1202.8,451.9 L1204.3,451.9 L1205.0,451.9 M1217.5,451.8 L1217.9,451.8 L1219.6,451.8 L1221.4,451.8 L1221.5,451.8 M1234.0,451.8 L1234.5,451.9 L1236.1,451.9 L1237.7,451.9 L1238.0,451.9 M1250.5,452.0 L1250.7,452.0 L1253.2,452.0 L1254.5,452.1 M1266.9,453.4 L1267.2,453.5 L1268.6,453.7 L1270.2,454.0 L1270.8,454.1 M1283.0,457.6 L1283.4,457.7 L1284.8,458.2 L1286.2,458.7 L1286.8,458.9 M1298.7,463.5 L1299.1,463.7 L1300.5,464.2 L1301.9,464.8 L1302.5,465.1 M1314.1,470.7 L1314.1,470.8 L1315.5,471.5 L1316.8,472.3 L1317.7,472.8 M1328.7,479.9 L1328.8,479.9 L1330.1,480.8 L1331.3,481.6 L1332.2,482.3 M1342.7,490.3 L1342.9,490.5 L1344.1,491.4 L1345.2,492.4 L1346.0,493.0 M1356.0,502.1 L1356.1,502.1 L1357.2,503.2 L1358.3,504.3 L1359.1,505.1 M1369.0,514.3 L1369.2,514.4 L1370.3,515.4 L1371.4,516.4 L1372.2,517.1 M1382.2,526.1 L1382.4,526.2 L1383.5,527.2 L1384.6,528.2 L1385.5,528.9 M1396.6,535.8 L1396.9,536.0 L1398.4,536.6 L1399.7,537.3 L1400.3,537.5 M1412.4,541.2 L1412.8,541.2 L1413.7,541.4 L1414.0,541.5" fill="none" stroke="#3c0a49" stroke-width="3.30"/>
<path d="M842.80,454.60 L1268.00,454.60 L1271.00,455.80 L1414.00,455.80" fill="none" stroke="#000000" stroke-width="3.10"/>
<path d="M842.5,444.7 L842.8,444.7 L843.6,444.7 L844.7,444.7 L845.8,444.7 L847.1,444.7 L848.4,444.7 L849.9,444.8 L850.8,444.8 M859.0,444.8 L859.3,444.8 L861.1,444.9 L862.8,444.9 L864.6,444.9 L866.3,445.0 L867.3,445.0 M875.5,445.3 L875.6,445.3 L877.1,445.3 L878.6,445.4 L880.1,445.5 L881.6,445.6 L883.1,445.6 L883.8,445.7 M892.0,446.2 L892.1,446.2 L893.6,446.3 L895.1,446.4 L896.6,446.6 L898.1,446.7 L899.6,446.8 L900.3,446.9 M908.4,447.6 L908.7,447.7 L910.2,447.8 L911.7,448.0 L913.2,448.2 L914.7,448.3 L916.2,448.5 L916.7,448.6 M924.9,449.6 L925.2,449.6 L926.7,449.8 L928.2,450.0 L929.7,450.2 L931.2,450.4 L932.7,450.6 L933.1,450.7 M941.2,451.8 L941.3,451.8 L942.8,452.0 L944.3,452.3 L945.8,452.5 L947.3,452.7 L948.8,453.0 L949.5,453.1 M957.6,454.4 L957.8,454.5 L959.3,454.7 L960.7,455.0 L962.2,455.3 L963.7,455.5 L965.2,455.8 L965.8,455.9 M973.9,457.5 L974.0,457.6 L975.5,457.9 L977.0,458.2 L978.5,458.5 L980.0,458.8 L981.4,459.1 L982.1,459.3 M990.1,461.1 L990.3,461.1 L991.8,461.4 L993.3,461.8 L994.7,462.1 L996.2,462.5 L997.7,462.8 L998.3,463.0 M1006.3,465.0 L1006.6,465.0 L1008.0,465.4 L1009.5,465.8 L1011.0,466.2 L1012.5,466.6 L1014.0,467.0 L1014.4,467.1 M1022.4,469.4 L1022.7,469.5 L1024.1,469.9 L1025.6,470.4 L1027.0,470.8 L1028.5,471.3 L1029.9,471.7 L1030.4,471.9 M1038.4,474.4 L1038.7,474.5 L1040.1,475.0 L1041.6,475.5 L1043.0,476.0 L1044.4,476.4 L1045.9,476.9 L1046.3,477.1 M1054.2,479.9 L1054.4,479.9 L1055.9,480.5 L1057.3,481.0 L1058.7,481.5 L1060.1,482.0 L1061.6,482.6 L1062.2,482.8 M1070.0,485.8 L1070.1,485.8 L1071.6,486.4 L1073.0,486.9 L1074.4,487.5 L1075.8,488.1 L1077.2,488.6 L1077.8,488.9 M1085.6,492.1 L1085.6,492.1 L1087.0,492.7 L1088.4,493.3 L1089.8,493.9 L1091.2,494.5 L1092.6,495.1 L1093.4,495.5 M1101.1,498.8 L1101.5,499.0 L1102.9,499.6 L1104.3,500.2 L1105.7,500.8 L1107.0,501.4 L1108.4,502.0 L1108.9,502.2 M1116.6,505.7 L1116.7,505.7 L1118.1,506.4 L1119.5,507.0 L1120.9,507.6 L1122.3,508.3 L1123.6,508.9 L1124.3,509.2 M1132.0,512.9 L1132.3,513.1 L1133.6,513.7 L1134.9,514.4 L1136.3,515.1 L1137.6,515.7 L1139.0,516.4 L1139.6,516.8 M1147.1,520.7 L1147.4,520.8 L1148.8,521.5 L1150.1,522.2 L1151.5,522.9 L1152.8,523.7 L1154.1,524.4 L1154.7,524.7 M1162.2,528.7 L1162.5,528.9 L1163.9,529.6 L1165.2,530.4 L1166.5,531.1 L1167.8,531.8 L1169.1,532.5 L1169.7,532.9 M1177.2,537.1 L1177.5,537.3 L1178.8,538.0 L1180.1,538.8 L1181.4,539.5 L1182.8,540.3 L1184.1,541.0 L1184.7,541.4 M1192.0,545.7 L1192.3,545.9 L1193.6,546.6 L1194.9,547.4 L1196.2,548.2 L1197.5,549.0 L1198.8,549.7 L1199.5,550.1 M1206.8,554.5 L1207.0,554.7 L1208.3,555.5 L1209.6,556.2 L1210.9,557.0 L1212.2,557.8 L1213.5,558.5 L1214.2,558.9 M1221.6,563.3 L1221.9,563.5 L1223.2,564.2 L1224.5,565.0 L1225.8,565.8 L1227.2,566.6 L1228.5,567.3 L1229.0,567.7 M1236.4,571.9 L1236.8,572.1 L1238.2,572.9 L1239.5,573.6 L1240.8,574.3 L1242.1,575.1 L1243.4,575.8 L1244.0,576.1 M1251.4,580.1 L1251.5,580.2 L1252.8,580.9 L1254.2,581.6 L1255.5,582.3 L1256.8,583.0 L1258.2,583.7 L1259.0,584.1 M1266.6,587.9 L1266.7,587.9 L1268.0,588.6 L1269.3,589.2 L1270.7,589.8 L1272.1,590.4 L1273.5,591.0 L1274.4,591.4 M1282.1,594.7 L1282.4,594.8 L1283.8,595.4 L1285.2,596.0 L1286.6,596.5 L1288.0,597.1 L1289.4,597.6 L1290.0,597.8 M1297.9,600.5 L1298.3,600.6 L1299.7,601.0 L1301.2,601.4 L1302.7,601.8 L1304.2,602.2 L1305.8,602.6 L1306.0,602.7 M1314.1,604.4 L1314.1,604.4 L1315.6,604.7 L1317.1,605.0 L1318.6,605.2 L1320.1,605.5 L1321.6,605.7 L1322.3,605.8 M1330.4,607.0 L1330.8,607.0 L1332.6,607.2 L1334.3,607.3 L1336.0,607.4 L1337.6,607.4 L1338.7,607.4 M1346.9,607.4 L1347.1,607.4 L1349.0,607.5 L1350.2,607.6 L1351.2,607.8 L1352.3,607.8 L1353.7,607.6 L1355.2,607.3 M1363.1,605.0 L1363.5,604.9 L1365.0,604.5 L1366.5,604.0 L1368.1,603.4 L1369.7,602.9 L1371.1,602.4 M1379.0,599.7 L1379.3,599.6 L1380.7,599.0 L1382.1,598.5 L1383.4,598.0 L1384.7,597.5 L1386.0,596.9 L1386.9,596.6 M1394.5,592.8 L1394.7,592.7 L1395.9,592.0 L1397.0,591.3 L1398.1,590.5 L1399.3,589.8 L1400.5,589.0 L1401.7,588.1 L1401.8,588.1 M1408.6,582.6 L1408.6,582.6 L1409.9,581.5 L1411.1,580.5 L1412.1,579.6 L1413.0,578.8 L1413.8,578.2 L1414.0,578.0" fill="none" stroke="#0000ff" stroke-width="3.30"/>
<path d="M842.5,779.0 L842.8,779.0 L843.6,779.1 L844.6,779.2 L845.7,779.3 L846.9,779.4 L848.2,779.5 L849.7,779.7 L850.5,779.7 M853.1,780.0 L853.4,780.0 L855.2,780.1 L855.7,780.1 M858.3,780.3 L858.4,780.3 L860.4,780.4 L862.5,780.5 L863.7,780.5 L864.9,780.6 L866.1,780.6 L866.3,780.6 M868.9,780.7 L869.0,780.7 L870.3,780.8 L871.5,780.8 M874.1,780.9 L874.4,780.9 L875.8,781.0 L877.3,781.0 L878.8,781.0 L880.3,781.1 L881.8,781.1 L882.1,781.1 M884.7,781.1 L885.0,781.1 L886.6,781.2 L887.3,781.2 M889.9,781.2 L890.0,781.2 L891.7,781.1 L893.5,781.1 L895.3,781.1 L897.1,781.1 L897.9,781.0 M900.5,781.0 L900.5,781.0 L901.8,780.9 L903.0,780.9 M905.6,780.8 L905.7,780.8 L907.1,780.8 L908.5,780.7 L909.9,780.7 L911.3,780.6 L912.8,780.6 L913.6,780.5 M916.2,780.4 L916.7,780.4 L918.2,780.3 L918.8,780.3 M921.4,780.2 L921.8,780.2 L923.3,780.1 L924.9,780.0 L926.5,779.9 L928.0,779.8 L929.4,779.8 M932.0,779.6 L932.2,779.6 L933.8,779.5 L934.6,779.5 M937.2,779.3 L937.5,779.3 L939.1,779.2 L940.7,779.1 L942.3,779.0 L943.9,778.9 L945.2,778.8 M947.8,778.6 L948.1,778.5 L949.6,778.4 L950.4,778.4 M953.0,778.1 L953.3,778.1 L954.8,778.0 L956.3,777.8 L957.8,777.7 L959.3,777.6 L960.8,777.4 L961.0,777.4 M963.6,777.1 L963.8,777.1 L965.2,777.0 L966.1,776.9 M968.7,776.6 L969.2,776.5 L970.7,776.4 L972.2,776.2 L973.7,776.0 L975.2,775.8 L976.7,775.7 L976.7,775.7 M979.3,775.3 L979.7,775.3 L981.2,775.1 L981.9,775.0 M984.5,774.7 L984.6,774.7 L986.1,774.5 L987.6,774.3 L989.1,774.1 L990.6,773.9 L992.1,773.7 L992.4,773.6 M995.0,773.2 L995.1,773.2 L996.6,773.0 L997.6,772.9 M1000.2,772.5 L1000.5,772.4 L1002.0,772.2 L1003.5,772.0 L1005.0,771.7 L1006.5,771.5 L1008.0,771.3 L1008.1,771.3 M1010.7,770.8 L1011.0,770.8 L1012.5,770.5 L1013.2,770.4 M1015.8,770.0 L1015.9,770.0 L1017.4,769.7 L1018.9,769.5 L1020.4,769.2 L1021.8,769.0 L1023.3,768.7 L1023.7,768.6 M1026.3,768.2 L1026.8,768.1 L1028.2,767.8 L1028.9,767.7 M1031.4,767.2 L1031.7,767.2 L1033.2,766.9 L1034.6,766.6 L1036.1,766.4 L1037.6,766.1 L1039.1,765.8 L1039.3,765.7 M1041.9,765.2 L1042.0,765.2 L1043.5,764.9 L1044.5,764.7 M1047.0,764.2 L1047.5,764.1 L1048.9,763.8 L1050.4,763.5 L1051.9,763.2 L1053.4,762.9 L1054.8,762.6 L1054.9,762.5 M1057.5,762.0 L1057.8,761.9 L1059.3,761.6 L1060.0,761.4 M1062.6,760.8 L1062.7,760.8 L1064.2,760.4 L1065.7,760.1 L1067.2,759.8 L1068.6,759.4 L1070.1,759.0 L1070.4,759.0 M1073.0,758.3 L1073.0,758.3 L1074.5,758.0 L1075.5,757.7 M1078.1,757.1 L1078.4,757.0 L1079.8,756.6 L1081.3,756.3 L1082.7,755.9 L1084.2,755.5 L1085.6,755.2 L1085.9,755.1 M1088.4,754.4 L1088.5,754.4 L1090.0,754.0 L1091.0,753.7 M1093.5,753.1 L1093.9,753.0 L1095.3,752.6 L1096.8,752.2 L1098.2,751.8 L1099.7,751.4 L1101.1,751.0 L1101.3,750.9 M1103.8,750.2 L1104.0,750.1 L1105.5,749.7 L1106.4,749.4 M1108.9,748.7 L1109.4,748.5 L1110.8,748.1 L1112.3,747.6 L1113.7,747.2 L1115.2,746.7 L1116.6,746.3 L1116.6,746.3 M1119.1,745.4 L1119.5,745.3 L1121.0,744.8 L1121.6,744.6 M1124.1,743.7 L1124.4,743.7 L1125.8,743.2 L1127.3,742.6 L1128.7,742.1 L1130.1,741.6 L1131.5,741.1 L1131.8,741.0 M1134.3,740.1 L1134.7,739.9 L1136.1,739.4 L1136.8,739.1 M1139.2,738.2 L1139.3,738.1 L1140.7,737.6 L1142.1,737.0 L1143.5,736.5 L1144.8,735.9 L1146.2,735.4 L1146.8,735.1 M1149.3,734.1 L1149.5,734.0 L1150.8,733.4 L1151.7,733.0 M1154.2,732.0 L1154.5,731.9 L1155.9,731.3 L1157.3,730.7 L1158.7,730.1 L1160.1,729.4 L1161.4,728.8 L1161.7,728.7 M1164.1,727.6 L1164.2,727.6 L1165.6,727.0 L1166.6,726.5 M1169.0,725.4 L1169.3,725.3 L1170.7,724.7 L1172.0,724.0 L1173.4,723.4 L1174.8,722.8 L1176.2,722.1 L1176.5,722.0 M1178.9,720.9 L1178.9,720.8 L1180.3,720.2 L1181.3,719.7 M1183.7,718.6 L1184.0,718.5 L1185.4,717.8 L1186.7,717.2 L1188.1,716.5 L1189.4,715.9 L1190.8,715.2 L1191.2,715.0 M1193.6,713.9 L1193.9,713.7 L1195.2,713.1 L1196.0,712.7 M1198.4,711.5 L1198.8,711.3 L1200.1,710.7 L1201.5,710.0 L1202.8,709.3 L1204.2,708.7 L1205.5,708.0 L1205.8,707.9 M1208.2,706.6 L1208.6,706.4 L1210.0,705.7 L1210.6,705.4 M1213.0,704.2 L1213.1,704.1 L1214.4,703.5 L1215.8,702.8 L1217.1,702.1 L1218.4,701.4 L1219.8,700.7 L1220.3,700.4 M1222.7,699.1 L1222.9,699.0 L1224.2,698.3 L1225.1,697.9 M1227.5,696.6 L1227.8,696.4 L1229.2,695.7 L1230.5,695.0 L1231.8,694.2 L1233.2,693.5 L1234.5,692.8 L1234.7,692.6 M1237.1,691.3 L1237.2,691.3 L1238.5,690.5 L1239.5,690.0 M1241.8,688.7 L1242.1,688.6 L1243.4,687.8 L1244.7,687.1 L1246.0,686.3 L1247.4,685.6 L1248.7,684.8 L1249.1,684.6 M1251.4,683.2 L1251.4,683.2 L1252.8,682.4 L1253.7,681.9 M1256.1,680.5 L1256.5,680.3 L1257.9,679.5 L1259.2,678.6 L1260.6,677.8 L1262.0,677.0 L1263.2,676.3 M1265.6,674.9 L1265.8,674.7 L1267.2,673.9 L1267.9,673.5 M1270.2,672.1 L1270.4,671.9 L1271.8,671.1 L1273.1,670.3 L1274.5,669.4 L1275.9,668.6 L1277.2,667.8 L1277.3,667.7 M1279.6,666.3 L1279.9,666.1 L1281.2,665.3 L1282.0,664.8 M1284.3,663.4 L1284.6,663.2 L1285.9,662.4 L1287.1,661.6 L1288.3,660.8 L1289.5,660.1 L1290.7,659.3 L1291.4,658.9 M1293.6,657.5 L1293.8,657.4 L1294.9,656.7 L1295.9,656.0 M1298.2,654.5 L1298.4,654.4 L1299.4,653.8 L1300.9,652.8 L1302.6,651.7 L1304.2,650.6 L1305.3,649.9 M1307.5,648.4 L1307.7,648.3 L1309.1,647.3 L1309.8,646.8 M1312.0,645.2 L1312.0,645.2 L1313.2,644.4 L1314.3,643.6 L1315.4,642.7 L1316.5,641.9 L1317.5,641.1 L1318.6,640.3 L1318.8,640.2 M1321.0,638.5 L1321.3,638.2 L1322.3,637.4 L1323.2,636.8 M1325.3,635.1 L1325.5,634.9 L1326.7,634.0 L1327.9,633.1 L1329.1,632.2 L1330.2,631.3 L1331.4,630.4 L1332.1,629.9 M1334.2,628.2 L1334.5,627.9 L1335.7,627.0 L1336.4,626.4 M1338.6,624.7 L1338.8,624.5 L1340.0,623.6 L1341.2,622.6 L1342.4,621.7 L1343.5,620.7 L1344.7,619.8 L1345.2,619.4 M1347.4,617.6 L1347.5,617.5 L1348.6,616.6 L1349.5,615.8 M1351.6,614.1 L1351.8,614.0 L1352.9,613.0 L1354.1,612.1 L1355.3,611.1 L1356.5,610.1 L1357.6,609.2 L1358.2,608.6 M1360.4,606.9 L1360.7,606.6 L1361.9,605.6 L1362.5,605.1 M1364.7,603.3 L1365.0,603.1 L1366.1,602.1 L1367.3,601.1 L1368.4,600.1 L1369.6,599.2 L1370.8,598.2 L1371.2,597.8 M1373.3,596.0 L1373.5,595.9 L1374.6,594.9 L1375.5,594.2 M1377.6,592.4 L1377.7,592.3 L1378.9,591.3 L1380.0,590.4 L1381.2,589.4 L1382.3,588.4 L1383.5,587.4 L1384.1,586.9 M1386.3,585.1 L1386.6,584.8 L1387.8,583.8 L1388.4,583.3 M1390.5,581.5 L1390.8,581.3 L1392.1,580.2 L1393.5,579.0 L1394.8,577.9 L1396.2,576.8 L1397.1,576.0 M1399.2,574.2 L1399.3,574.1 L1400.6,573.0 L1401.3,572.4 M1403.5,570.7 L1403.6,570.5 L1404.9,569.5 L1406.1,568.5 L1407.2,567.5 L1408.3,566.6 L1409.4,565.7 L1410.0,565.1 M1412.1,563.4 L1412.4,563.1 L1413.1,562.5 L1413.8,562.0 L1414.0,561.8" fill="none" stroke="#ff0000" stroke-width="3.50"/>
<line x1="229.88" y1="19.00" x2="229.88" y2="26.00" stroke="#000" stroke-width="1.40"/>
<line x1="229.88" y1="400.90" x2="229.88" y2="394.60" stroke="#000" stroke-width="1.40"/>
<line x1="287.00" y1="19.00" x2="287.00" y2="31.00" stroke="#000" stroke-width="1.40"/>
<line x1="287.00" y1="400.90" x2="287.00" y2="388.90" stroke="#000" stroke-width="1.40"/>
<line x1="344.12" y1="19.00" x2="344.12" y2="26.00" stroke="#000" stroke-width="1.40"/>
<line x1="344.12" y1="400.90" x2="344.12" y2="394.60" stroke="#000" stroke-width="1.40"/>
<line x1="401.25" y1="19.00" x2="401.25" y2="31.00" stroke="#000" stroke-width="1.40"/>
<line x1="401.25" y1="400.90" x2="401.25" y2="388.90" stroke="#000" stroke-width="1.40"/>
<line x1="458.38" y1="19.00" x2="458.38" y2="26.00" stroke="#000" stroke-width="1.40"/>
<line x1="458.38" y1="400.90" x2="458.38" y2="394.60" stroke="#000" stroke-width="1.40"/>
<line x1="515.50" y1="19.00" x2="515.50" y2="31.00" stroke="#000" stroke-width="1.40"/>
<line x1="515.50" y1="400.90" x2="515.50" y2="388.90" stroke="#000" stroke-width="1.40"/>
<line x1="572.62" y1="19.00" x2="572.62" y2="26.00" stroke="#000" stroke-width="1.40"/>
<line x1="572.62" y1="400.90" x2="572.62" y2="394.60" stroke="#000" stroke-width="1.40"/>
<line x1="629.75" y1="19.00" x2="629.75" y2="31.00" stroke="#000" stroke-width="1.40"/>
<line x1="629.75" y1="400.90" x2="629.75" y2="388.90" stroke="#000" stroke-width="1.40"/>
<line x1="686.88" y1="19.00" x2="686.88" y2="26.00" stroke="#000" stroke-width="1.40"/>
<line x1="686.88" y1="400.90" x2="686.88" y2="394.60" stroke="#000" stroke-width="1.40"/>
<line x1="172.75" y1="364.20" x2="186.25" y2="364.20" stroke="#000" stroke-width="1.40"/>
<line x1="744.00" y1="364.20" x2="729.20" y2="364.20" stroke="#000" stroke-width="1.40"/>
<line x1="172.75" y1="290.76" x2="186.25" y2="290.76" stroke="#000" stroke-width="1.40"/>
<line x1="744.00" y1="290.76" x2="729.20" y2="290.76" stroke="#000" stroke-width="1.40"/>
<line x1="172.75" y1="217.32" x2="186.25" y2="217.32" stroke="#000" stroke-width="1.40"/>
<line x1="744.00" y1="217.32" x2="729.20" y2="217.32" stroke="#000" stroke-width="1.40"/>
<line x1="172.75" y1="143.88" x2="186.25" y2="143.88" stroke="#000" stroke-width="1.40"/>
<line x1="744.00" y1="143.88" x2="729.20" y2="143.88" stroke="#000" stroke-width="1.40"/>
<line x1="172.75" y1="70.44" x2="186.25" y2="70.44" stroke="#000" stroke-width="1.40"/>
<line x1="744.00" y1="70.44" x2="729.20" y2="70.44" stroke="#000" stroke-width="1.40"/>
<line x1="172.75" y1="327.48" x2="178.95" y2="327.48" stroke="#000" stroke-width="1.40"/>
<line x1="744.00" y1="327.48" x2="735.50" y2="327.48" stroke="#000" stroke-width="1.40"/>
<line x1="172.75" y1="254.04" x2="178.95" y2="254.04" stroke="#000" stroke-width="1.40"/>
<line x1="744.00" y1="254.04" x2="735.50" y2="254.04" stroke="#000" stroke-width="1.40"/>
<line x1="172.75" y1="180.60" x2="178.95" y2="180.60" stroke="#000" stroke-width="1.40"/>
<line x1="744.00" y1="180.60" x2="735.50" y2="180.60" stroke="#000" stroke-width="1.40"/>
<line x1="172.75" y1="107.16" x2="178.95" y2="107.16" stroke="#000" stroke-width="1.40"/>
<line x1="744.00" y1="107.16" x2="735.50" y2="107.16" stroke="#000" stroke-width="1.40"/>
<line x1="172.75" y1="33.72" x2="178.95" y2="33.72" stroke="#000" stroke-width="1.40"/>
<line x1="744.00" y1="33.72" x2="735.50" y2="33.72" stroke="#000" stroke-width="1.40"/>
<line x1="230.10" y1="400.90" x2="230.10" y2="407.90" stroke="#000" stroke-width="1.40"/>
<line x1="230.10" y1="783.20" x2="230.10" y2="776.90" stroke="#000" stroke-width="1.40"/>
<line x1="287.20" y1="400.90" x2="287.20" y2="412.90" stroke="#000" stroke-width="1.40"/>
<line x1="287.20" y1="783.20" x2="287.20" y2="771.20" stroke="#000" stroke-width="1.40"/>
<line x1="344.30" y1="400.90" x2="344.30" y2="407.90" stroke="#000" stroke-width="1.40"/>
<line x1="344.30" y1="783.20" x2="344.30" y2="776.90" stroke="#000" stroke-width="1.40"/>
<line x1="401.40" y1="400.90" x2="401.40" y2="412.90" stroke="#000" stroke-width="1.40"/>
<line x1="401.40" y1="783.20" x2="401.40" y2="771.20" stroke="#000" stroke-width="1.40"/>
<line x1="458.50" y1="400.90" x2="458.50" y2="407.90" stroke="#000" stroke-width="1.40"/>
<line x1="458.50" y1="783.20" x2="458.50" y2="776.90" stroke="#000" stroke-width="1.40"/>
<line x1="515.60" y1="400.90" x2="515.60" y2="412.90" stroke="#000" stroke-width="1.40"/>
<line x1="515.60" y1="783.20" x2="515.60" y2="771.20" stroke="#000" stroke-width="1.40"/>
<line x1="572.70" y1="400.90" x2="572.70" y2="407.90" stroke="#000" stroke-width="1.40"/>
<line x1="572.70" y1="783.20" x2="572.70" y2="776.90" stroke="#000" stroke-width="1.40"/>
<line x1="629.80" y1="400.90" x2="629.80" y2="412.90" stroke="#000" stroke-width="1.40"/>
<line x1="629.80" y1="783.20" x2="629.80" y2="771.20" stroke="#000" stroke-width="1.40"/>
<line x1="686.90" y1="400.90" x2="686.90" y2="407.90" stroke="#000" stroke-width="1.40"/>
<line x1="686.90" y1="783.20" x2="686.90" y2="776.90" stroke="#000" stroke-width="1.40"/>
<line x1="173.00" y1="458.80" x2="186.50" y2="458.80" stroke="#000" stroke-width="1.40"/>
<line x1="744.00" y1="458.80" x2="729.20" y2="458.80" stroke="#000" stroke-width="1.40"/>
<line x1="173.00" y1="574.65" x2="186.50" y2="574.65" stroke="#000" stroke-width="1.40"/>
<line x1="744.00" y1="574.65" x2="729.20" y2="574.65" stroke="#000" stroke-width="1.40"/>
<line x1="173.00" y1="690.50" x2="186.50" y2="690.50" stroke="#000" stroke-width="1.40"/>
<line x1="744.00" y1="690.50" x2="729.20" y2="690.50" stroke="#000" stroke-width="1.40"/>
<line x1="173.00" y1="516.73" x2="179.20" y2="516.73" stroke="#000" stroke-width="1.40"/>
<line x1="744.00" y1="516.73" x2="735.50" y2="516.73" stroke="#000" stroke-width="1.40"/>
<line x1="173.00" y1="632.58" x2="179.20" y2="632.58" stroke="#000" stroke-width="1.40"/>
<line x1="744.00" y1="632.58" x2="735.50" y2="632.58" stroke="#000" stroke-width="1.40"/>
<line x1="173.00" y1="748.42" x2="179.20" y2="748.42" stroke="#000" stroke-width="1.40"/>
<line x1="744.00" y1="748.42" x2="735.50" y2="748.42" stroke="#000" stroke-width="1.40"/>
<line x1="899.56" y1="19.20" x2="899.56" y2="26.20" stroke="#000" stroke-width="1.40"/>
<line x1="899.56" y1="402.00" x2="899.56" y2="395.70" stroke="#000" stroke-width="1.40"/>
<line x1="956.72" y1="19.20" x2="956.72" y2="31.20" stroke="#000" stroke-width="1.40"/>
<line x1="956.72" y1="402.00" x2="956.72" y2="390.00" stroke="#000" stroke-width="1.40"/>
<line x1="1013.88" y1="19.20" x2="1013.88" y2="26.20" stroke="#000" stroke-width="1.40"/>
<line x1="1013.88" y1="402.00" x2="1013.88" y2="395.70" stroke="#000" stroke-width="1.40"/>
<line x1="1071.04" y1="19.20" x2="1071.04" y2="31.20" stroke="#000" stroke-width="1.40"/>
<line x1="1071.04" y1="402.00" x2="1071.04" y2="390.00" stroke="#000" stroke-width="1.40"/>
<line x1="1128.20" y1="19.20" x2="1128.20" y2="26.20" stroke="#000" stroke-width="1.40"/>
<line x1="1128.20" y1="402.00" x2="1128.20" y2="395.70" stroke="#000" stroke-width="1.40"/>
<line x1="1185.36" y1="19.20" x2="1185.36" y2="31.20" stroke="#000" stroke-width="1.40"/>
<line x1="1185.36" y1="402.00" x2="1185.36" y2="390.00" stroke="#000" stroke-width="1.40"/>
<line x1="1242.52" y1="19.20" x2="1242.52" y2="26.20" stroke="#000" stroke-width="1.40"/>
<line x1="1242.52" y1="402.00" x2="1242.52" y2="395.70" stroke="#000" stroke-width="1.40"/>
<line x1="1299.68" y1="19.20" x2="1299.68" y2="31.20" stroke="#000" stroke-width="1.40"/>
<line x1="1299.68" y1="402.00" x2="1299.68" y2="390.00" stroke="#000" stroke-width="1.40"/>
<line x1="1356.84" y1="19.20" x2="1356.84" y2="26.20" stroke="#000" stroke-width="1.40"/>
<line x1="1356.84" y1="402.00" x2="1356.84" y2="395.70" stroke="#000" stroke-width="1.40"/>
<line x1="842.40" y1="367.20" x2="855.90" y2="367.20" stroke="#000" stroke-width="1.40"/>
<line x1="1414.00" y1="367.20" x2="1399.20" y2="367.20" stroke="#000" stroke-width="1.40"/>
<line x1="842.40" y1="297.60" x2="855.90" y2="297.60" stroke="#000" stroke-width="1.40"/>
<line x1="1414.00" y1="297.60" x2="1399.20" y2="297.60" stroke="#000" stroke-width="1.40"/>
<line x1="842.40" y1="228.00" x2="855.90" y2="228.00" stroke="#000" stroke-width="1.40"/>
<line x1="1414.00" y1="228.00" x2="1399.20" y2="228.00" stroke="#000" stroke-width="1.40"/>
<line x1="842.40" y1="158.40" x2="855.90" y2="158.40" stroke="#000" stroke-width="1.40"/>
<line x1="1414.00" y1="158.40" x2="1399.20" y2="158.40" stroke="#000" stroke-width="1.40"/>
<line x1="842.40" y1="88.80" x2="855.90" y2="88.80" stroke="#000" stroke-width="1.40"/>
<line x1="1414.00" y1="88.80" x2="1399.20" y2="88.80" stroke="#000" stroke-width="1.40"/>
<line x1="842.40" y1="332.40" x2="848.60" y2="332.40" stroke="#000" stroke-width="1.40"/>
<line x1="1414.00" y1="332.40" x2="1405.50" y2="332.40" stroke="#000" stroke-width="1.40"/>
<line x1="842.40" y1="262.80" x2="848.60" y2="262.80" stroke="#000" stroke-width="1.40"/>
<line x1="1414.00" y1="262.80" x2="1405.50" y2="262.80" stroke="#000" stroke-width="1.40"/>
<line x1="842.40" y1="193.20" x2="848.60" y2="193.20" stroke="#000" stroke-width="1.40"/>
<line x1="1414.00" y1="193.20" x2="1405.50" y2="193.20" stroke="#000" stroke-width="1.40"/>
<line x1="842.40" y1="123.60" x2="848.60" y2="123.60" stroke="#000" stroke-width="1.40"/>
<line x1="1414.00" y1="123.60" x2="1405.50" y2="123.60" stroke="#000" stroke-width="1.40"/>
<line x1="842.40" y1="54.00" x2="848.60" y2="54.00" stroke="#000" stroke-width="1.40"/>
<line x1="1414.00" y1="54.00" x2="1405.50" y2="54.00" stroke="#000" stroke-width="1.40"/>
<line x1="899.65" y1="402.00" x2="899.65" y2="409.00" stroke="#000" stroke-width="1.40"/>
<line x1="899.65" y1="784.60" x2="899.65" y2="778.30" stroke="#000" stroke-width="1.40"/>
<line x1="956.80" y1="402.00" x2="956.80" y2="414.00" stroke="#000" stroke-width="1.40"/>
<line x1="956.80" y1="784.60" x2="956.80" y2="772.60" stroke="#000" stroke-width="1.40"/>
<line x1="1013.95" y1="402.00" x2="1013.95" y2="409.00" stroke="#000" stroke-width="1.40"/>
<line x1="1013.95" y1="784.60" x2="1013.95" y2="778.30" stroke="#000" stroke-width="1.40"/>
<line x1="1071.10" y1="402.00" x2="1071.10" y2="414.00" stroke="#000" stroke-width="1.40"/>
<line x1="1071.10" y1="784.60" x2="1071.10" y2="772.60" stroke="#000" stroke-width="1.40"/>
<line x1="1128.25" y1="402.00" x2="1128.25" y2="409.00" stroke="#000" stroke-width="1.40"/>
<line x1="1128.25" y1="784.60" x2="1128.25" y2="778.30" stroke="#000" stroke-width="1.40"/>
<line x1="1185.40" y1="402.00" x2="1185.40" y2="414.00" stroke="#000" stroke-width="1.40"/>
<line x1="1185.40" y1="784.60" x2="1185.40" y2="772.60" stroke="#000" stroke-width="1.40"/>
<line x1="1242.55" y1="402.00" x2="1242.55" y2="409.00" stroke="#000" stroke-width="1.40"/>
<line x1="1242.55" y1="784.60" x2="1242.55" y2="778.30" stroke="#000" stroke-width="1.40"/>
<line x1="1299.70" y1="402.00" x2="1299.70" y2="414.00" stroke="#000" stroke-width="1.40"/>
<line x1="1299.70" y1="784.60" x2="1299.70" y2="772.60" stroke="#000" stroke-width="1.40"/>
<line x1="1356.85" y1="402.00" x2="1356.85" y2="409.00" stroke="#000" stroke-width="1.40"/>
<line x1="1356.85" y1="784.60" x2="1356.85" y2="778.30" stroke="#000" stroke-width="1.40"/>
<line x1="842.50" y1="455.50" x2="856.00" y2="455.50" stroke="#000" stroke-width="1.40"/>
<line x1="1414.00" y1="455.50" x2="1399.20" y2="455.50" stroke="#000" stroke-width="1.40"/>
<line x1="842.50" y1="561.63" x2="856.00" y2="561.63" stroke="#000" stroke-width="1.40"/>
<line x1="1414.00" y1="561.63" x2="1399.20" y2="561.63" stroke="#000" stroke-width="1.40"/>
<line x1="842.50" y1="667.76" x2="856.00" y2="667.76" stroke="#000" stroke-width="1.40"/>
<line x1="1414.00" y1="667.76" x2="1399.20" y2="667.76" stroke="#000" stroke-width="1.40"/>
<line x1="842.50" y1="773.89" x2="856.00" y2="773.89" stroke="#000" stroke-width="1.40"/>
<line x1="1414.00" y1="773.89" x2="1399.20" y2="773.89" stroke="#000" stroke-width="1.40"/>
<line x1="842.50" y1="508.56" x2="848.70" y2="508.56" stroke="#000" stroke-width="1.40"/>
<line x1="1414.00" y1="508.56" x2="1405.50" y2="508.56" stroke="#000" stroke-width="1.40"/>
<line x1="842.50" y1="614.69" x2="848.70" y2="614.69" stroke="#000" stroke-width="1.40"/>
<line x1="1414.00" y1="614.69" x2="1405.50" y2="614.69" stroke="#000" stroke-width="1.40"/>
<line x1="842.50" y1="720.83" x2="848.70" y2="720.83" stroke="#000" stroke-width="1.40"/>
<line x1="1414.00" y1="720.83" x2="1405.50" y2="720.83" stroke="#000" stroke-width="1.40"/>
<rect x="172.75" y="19.00" width="571.25" height="381.90" fill="none" stroke="#000" stroke-width="2.10"/>
<rect x="173.00" y="400.90" width="571.00" height="382.30" fill="none" stroke="#000" stroke-width="2.10"/>
<rect x="842.40" y="19.20" width="571.60" height="382.80" fill="none" stroke="#000" stroke-width="2.10"/>
<rect x="842.50" y="402.00" width="571.50" height="382.60" fill="none" stroke="#000" stroke-width="2.10"/>
<line x1="171.75" y1="400.85" x2="745.00" y2="400.85" stroke="#000" stroke-width="3.50"/>
<line x1="841.40" y1="402.00" x2="1415.00" y2="402.00" stroke="#000" stroke-width="3.00"/>
<text class="s" transform="translate(151.30,82.04) scale(1,1.060)" font-size="33.00" text-anchor="end">0.4</text>
<text class="s" transform="translate(151.30,155.48) scale(1,1.060)" font-size="33.00" text-anchor="end">0.3</text>
<text class="s" transform="translate(151.30,228.92) scale(1,1.060)" font-size="33.00" text-anchor="end">0.2</text>
<text class="s" transform="translate(151.30,302.36) scale(1,1.060)" font-size="33.00" text-anchor="end">0.1</text>
<text class="s" transform="translate(152.80,375.80) scale(1,1.060)" font-size="33.00" text-anchor="end">0</text>
<text class="s" transform="translate(152.80,470.40) scale(1,1.060)" font-size="33.00" text-anchor="end">0</text>
<text class="s" transform="translate(151.30,586.25) scale(1,1.060)" font-size="33.00" text-anchor="end">-0.1</text>
<text class="s" transform="translate(151.00,702.10) scale(1,1.060)" font-size="33.00" text-anchor="end">-0.2</text>
<text class="s" transform="translate(821.00,30.80) scale(1,1.060)" font-size="33.00" text-anchor="end">0.5</text>
<text class="s" transform="translate(821.00,100.40) scale(1,1.060)" font-size="33.00" text-anchor="end">0.4</text>
<text class="s" transform="translate(821.00,170.00) scale(1,1.060)" font-size="33.00" text-anchor="end">0.3</text>
<text class="s" transform="translate(821.00,239.60) scale(1,1.060)" font-size="33.00" text-anchor="end">0.2</text>
<text class="s" transform="translate(821.00,309.20) scale(1,1.060)" font-size="33.00" text-anchor="end">0.1</text>
<text class="s" transform="translate(822.80,378.80) scale(1,1.060)" font-size="33.00" text-anchor="end">0</text>
<text class="s" transform="translate(822.40,467.10) scale(1,1.060)" font-size="33.00" text-anchor="end">0</text>
<text class="s" transform="translate(820.30,573.23) scale(1,1.060)" font-size="33.00" text-anchor="end">-0.1</text>
<text class="s" transform="translate(820.30,679.36) scale(1,1.060)" font-size="33.00" text-anchor="end">-0.2</text>
<text class="s" transform="translate(820.30,785.49) scale(1,1.060)" font-size="33.00" text-anchor="end">-0.3</text>
<text class="s" transform="translate(164.10,815.80) scale(1,1.070)" font-size="33.00" text-anchor="middle">0</text>
<text class="s" transform="translate(277.60,815.80) scale(1,1.070)" font-size="33.00" text-anchor="middle">0.2</text>
<text class="s" transform="translate(391.80,815.80) scale(1,1.070)" font-size="33.00" text-anchor="middle">0.4</text>
<text class="s" transform="translate(506.00,815.80) scale(1,1.070)" font-size="33.00" text-anchor="middle">0.6</text>
<text class="s" transform="translate(620.20,815.80) scale(1,1.070)" font-size="33.00" text-anchor="middle">0.8</text>
<text class="s" transform="translate(735.10,815.80) scale(1,1.070)" font-size="33.00" text-anchor="middle">1</text>
<text class="s" transform="translate(833.60,816.80) scale(1,1.030)" font-size="33.00" text-anchor="middle">0</text>
<text class="s" transform="translate(947.20,816.80) scale(1,1.030)" font-size="33.00" text-anchor="middle">0.2</text>
<text class="s" transform="translate(1061.50,816.80) scale(1,1.030)" font-size="33.00" text-anchor="middle">0.4</text>
<text class="s" transform="translate(1175.80,816.80) scale(1,1.030)" font-size="33.00" text-anchor="middle">0.6</text>
<text class="s" transform="translate(1290.10,816.80) scale(1,1.030)" font-size="33.00" text-anchor="middle">0.8</text>
<text class="s" transform="translate(1405.10,816.80) scale(1,1.030)" font-size="33.00" text-anchor="middle">1</text>
<line x1="201.00" y1="97.80" x2="270.70" y2="97.80" stroke="#000000" stroke-width="3.10"/>
<text class="s" x="270.10" y="113.50" font-size="32.60" text-anchor="start">h/</text>
<text class="s" x="303.90" y="113.50" font-size="32.60" text-anchor="start">&#916;</text>
<text class="s" x="331.70" y="113.50" font-size="32.60" text-anchor="start">=0</text>
<line x1="201.00" y1="130.50" x2="270.70" y2="130.50" stroke="#ff0000" stroke-width="3.50" stroke-dasharray="4.7 1 4.3 1.4 9 2.8 3.3 2.4 7.6 2.6 3 2.4 9 1.4 4.3 1.4 9 50" stroke-dashoffset="0.0"/>
<text class="s" x="270.10" y="146.20" font-size="32.60" text-anchor="start">h/</text>
<text class="s" x="303.90" y="146.20" font-size="32.60" text-anchor="start">&#916;</text>
<text class="s" x="331.70" y="146.20" font-size="32.60" text-anchor="start">=0.005</text>
<line x1="201.00" y1="163.00" x2="270.70" y2="163.00" stroke="#0000ff" stroke-width="3.30" stroke-dasharray="9 7.2" stroke-dashoffset="4.2"/>
<text class="s" x="270.10" y="178.70" font-size="32.60" text-anchor="start">h/</text>
<text class="s" x="303.90" y="178.70" font-size="32.60" text-anchor="start">&#916;</text>
<text class="s" x="331.70" y="178.70" font-size="32.60" text-anchor="start">=0.1</text>
<line x1="201.00" y1="195.70" x2="270.70" y2="195.70" stroke="#3c0a49" stroke-width="3.30" stroke-dasharray="3.8 12.7" stroke-dashoffset="0.0"/>
<text class="s" x="270.10" y="211.40" font-size="32.60" text-anchor="start">h/</text>
<text class="s" x="303.90" y="211.40" font-size="32.60" text-anchor="start">&#916;</text>
<text class="s" x="331.70" y="211.40" font-size="32.60" text-anchor="start">=1</text>
<line x1="196.40" y1="530.00" x2="266.40" y2="530.00" stroke="#000000" stroke-width="3.10"/>
<text class="s" x="265.80" y="545.00" font-size="32.00" text-anchor="start">h/</text>
<text class="s" x="298.70" y="545.00" font-size="32.00" text-anchor="start">&#916;</text>
<text class="s" x="326.40" y="545.00" font-size="32.00" text-anchor="start">=0</text>
<line x1="196.40" y1="562.20" x2="266.40" y2="562.20" stroke="#ff0000" stroke-width="3.50" stroke-dasharray="4.7 1 4.3 1.4 9 2.8 3.3 2.4 7.6 2.6 3 2.4 9 1.4 4.3 1.4 9 50" stroke-dashoffset="0.0"/>
<text class="s" x="265.80" y="577.20" font-size="32.00" text-anchor="start">h/</text>
<text class="s" x="298.70" y="577.20" font-size="32.00" text-anchor="start">&#916;</text>
<text class="s" x="326.40" y="577.20" font-size="32.00" text-anchor="start">=0.005</text>
<line x1="196.40" y1="594.70" x2="266.40" y2="594.70" stroke="#0000ff" stroke-width="3.30" stroke-dasharray="9 7.2" stroke-dashoffset="4.2"/>
<text class="s" x="265.80" y="609.70" font-size="32.00" text-anchor="start">h/</text>
<text class="s" x="298.70" y="609.70" font-size="32.00" text-anchor="start">&#916;</text>
<text class="s" x="326.40" y="609.70" font-size="32.00" text-anchor="start">=0.1</text>
<line x1="196.40" y1="626.90" x2="266.40" y2="626.90" stroke="#3c0a49" stroke-width="3.30" stroke-dasharray="3.8 12.7" stroke-dashoffset="0.0"/>
<text class="s" x="265.80" y="641.90" font-size="32.00" text-anchor="start">h/</text>
<text class="s" x="298.70" y="641.90" font-size="32.00" text-anchor="start">&#916;</text>
<text class="s" x="326.40" y="641.90" font-size="32.00" text-anchor="start">=1</text>
<line x1="862.20" y1="102.50" x2="932.10" y2="102.50" stroke="#000000" stroke-width="3.10"/>
<text class="s" x="931.50" y="117.60" font-size="32.60" text-anchor="start">h/</text>
<text class="s" x="965.00" y="117.60" font-size="32.60" text-anchor="start">&#916;</text>
<text class="s" x="992.80" y="117.60" font-size="32.60" text-anchor="start">=0</text>
<line x1="862.20" y1="135.40" x2="932.10" y2="135.40" stroke="#ff0000" stroke-width="3.50" stroke-dasharray="4.7 1 4.3 1.4 9 2.8 3.3 2.4 7.6 2.6 3 2.4 9 1.4 4.3 1.4 9 50" stroke-dashoffset="0.0"/>
<text class="s" x="931.50" y="150.50" font-size="32.60" text-anchor="start">h/</text>
<text class="s" x="965.00" y="150.50" font-size="32.60" text-anchor="start">&#916;</text>
<text class="s" x="992.80" y="150.50" font-size="32.60" text-anchor="start">=0.01</text>
<line x1="862.20" y1="167.70" x2="932.10" y2="167.70" stroke="#0000ff" stroke-width="3.30" stroke-dasharray="9 7.2" stroke-dashoffset="4.2"/>
<text class="s" x="931.50" y="182.80" font-size="32.60" text-anchor="start">h/</text>
<text class="s" x="965.00" y="182.80" font-size="32.60" text-anchor="start">&#916;</text>
<text class="s" x="992.80" y="182.80" font-size="32.60" text-anchor="start">=0.1</text>
<line x1="862.20" y1="200.30" x2="932.10" y2="200.30" stroke="#3c0a49" stroke-width="3.30" stroke-dasharray="3.8 12.7" stroke-dashoffset="0.0"/>
<text class="s" x="931.50" y="215.40" font-size="32.60" text-anchor="start">h/</text>
<text class="s" x="965.00" y="215.40" font-size="32.60" text-anchor="start">&#916;</text>
<text class="s" x="992.80" y="215.40" font-size="32.60" text-anchor="start">=1</text>
<line x1="866.70" y1="566.70" x2="936.30" y2="566.70" stroke="#000000" stroke-width="3.10"/>
<text class="s" x="935.70" y="581.70" font-size="32.00" text-anchor="start">h/</text>
<text class="s" x="968.60" y="581.70" font-size="32.00" text-anchor="start">&#916;</text>
<text class="s" x="996.30" y="581.70" font-size="32.00" text-anchor="start">=0</text>
<line x1="866.70" y1="598.80" x2="936.30" y2="598.80" stroke="#ff0000" stroke-width="3.50" stroke-dasharray="4.7 1 4.3 1.4 9 2.8 3.3 2.4 7.6 2.6 3 2.4 9 1.4 4.3 1.4 9 50" stroke-dashoffset="0.0"/>
<text class="s" x="935.70" y="613.80" font-size="32.00" text-anchor="start">h/</text>
<text class="s" x="968.60" y="613.80" font-size="32.00" text-anchor="start">&#916;</text>
<text class="s" x="996.30" y="613.80" font-size="32.00" text-anchor="start">=0.01</text>
<line x1="866.70" y1="631.00" x2="936.30" y2="631.00" stroke="#0000ff" stroke-width="3.30" stroke-dasharray="9 7.2" stroke-dashoffset="4.2"/>
<text class="s" x="935.70" y="646.00" font-size="32.00" text-anchor="start">h/</text>
<text class="s" x="968.60" y="646.00" font-size="32.00" text-anchor="start">&#916;</text>
<text class="s" x="996.30" y="646.00" font-size="32.00" text-anchor="start">=0.1</text>
<line x1="866.70" y1="664.00" x2="936.30" y2="664.00" stroke="#3c0a49" stroke-width="3.30" stroke-dasharray="3.8 12.7" stroke-dashoffset="0.0"/>
<text class="s" x="935.70" y="679.00" font-size="32.00" text-anchor="start">h/</text>
<text class="s" x="968.60" y="679.00" font-size="32.00" text-anchor="start">&#916;</text>
<text class="s" x="996.30" y="679.00" font-size="32.00" text-anchor="start">=1</text>
<text x="652.60" y="100.10" font-size="49.5">(</text>
<text x="670.90" y="100.10" font-size="49.5" font-style="italic">a</text>
<text x="696.30" y="100.10" font-size="49.5">)</text>
<text x="639.90" y="585.60" font-size="49.5">(</text>
<text x="657.70" y="585.60" font-size="49.5" font-style="italic">b</text>
<text x="681.90" y="585.60" font-size="49.5">)</text>
<text x="1237.60" y="100.20" font-size="49.5">(</text>
<text x="1254.70" y="100.20" font-size="49.5" font-style="italic">c</text>
<text x="1277.50" y="100.20" font-size="49.5">)</text>
<text x="1269.30" y="537.00" font-size="49.5">(</text>
<text x="1287.60" y="537.00" font-size="49.5" font-style="italic">d</text>
<text x="1316.40" y="537.00" font-size="49.5">)</text>
<text x="402.50" y="877.90" font-size="60.00" text-anchor="start" font-style="italic">x</text>
<text x="440.00" y="877.90" font-size="60.00" text-anchor="start">/</text>
<text x="470.00" y="877.90" font-size="60.00" text-anchor="start" font-style="italic">L</text>
<text x="1048.00" y="877.90" font-size="60.00" text-anchor="start" font-style="italic">x</text>
<text x="1085.50" y="877.90" font-size="60.00" text-anchor="start">/</text>
<text x="1115.50" y="877.90" font-size="60.00" text-anchor="start" font-style="italic">L</text>
<g transform="translate(55.80,309.30) rotate(-90)">
<text x="0" y="0" font-size="48">Re(</text>
<text x="82.3" y="-0.3" font-size="55" font-style="italic">&#952;</text>
<text x="119.3" y="0" font-size="48">/</text>
<text x="141.7" y="-0.5" font-size="60" font-style="italic">&#960;</text>
<text x="182.0" y="0" font-size="48">)</text>
</g>
<g transform="translate(55.80,697.50) rotate(-90)">
<text x="0" y="0" font-size="48">Im(</text>
<text x="82.3" y="-0.3" font-size="55" font-style="italic">&#952;</text>
<text x="119.3" y="0" font-size="48">/</text>
<text x="141.7" y="-0.5" font-size="60" font-style="italic">&#960;</text>
<text x="182.0" y="0" font-size="48">)</text>
</g>
</svg>
</body></html>
